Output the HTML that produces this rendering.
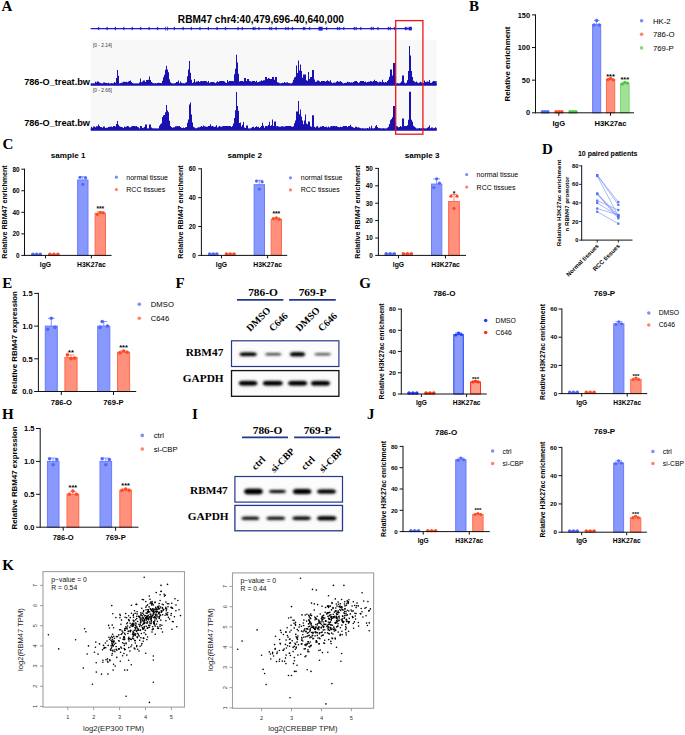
<!DOCTYPE html>
<html><head><meta charset="utf-8"><style>
html,body{margin:0;padding:0;background:#fff;}
svg{display:block;}
</style></head><body>
<svg width="685" height="735" viewBox="0 0 685 735">
<defs><filter id="bl" x="-30%" y="-150%" width="160%" height="400%"><feGaussianBlur stdDeviation="0.95"/></filter><filter id="bl2" x="-30%" y="-150%" width="160%" height="400%"><feGaussianBlur stdDeviation="1.8"/></filter></defs>
<rect width="685" height="735" fill="#fff"/>
<text x="1.50" y="11.03" font-family="Liberation Serif" font-size="15" font-weight="bold" text-anchor="start" fill="#000">A</text>
<text x="260.90" y="22.64" font-family="Liberation Sans" font-size="10.1" font-weight="bold" text-anchor="middle" fill="#000">RBM47 chr4:40,479,696-40,640,000</text>
<line x1="90.60" y1="28.60" x2="411.80" y2="28.60" stroke="#1c1cd0" stroke-width="1.25"/>
<path d="M99.20 26.6 L96.90 28.6 L99.20 30.6 Z" fill="#1c1cd0"/>
<path d="M107.60 26.6 L105.30 28.6 L107.60 30.6 Z" fill="#1c1cd0"/>
<path d="M116.00 26.6 L113.70 28.6 L116.00 30.6 Z" fill="#1c1cd0"/>
<path d="M124.40 26.6 L122.10 28.6 L124.40 30.6 Z" fill="#1c1cd0"/>
<path d="M132.80 26.6 L130.50 28.6 L132.80 30.6 Z" fill="#1c1cd0"/>
<path d="M141.20 26.6 L138.90 28.6 L141.20 30.6 Z" fill="#1c1cd0"/>
<path d="M149.70 26.6 L147.40 28.6 L149.70 30.6 Z" fill="#1c1cd0"/>
<path d="M158.10 26.6 L155.80 28.6 L158.10 30.6 Z" fill="#1c1cd0"/>
<path d="M174.90 26.6 L172.60 28.6 L174.90 30.6 Z" fill="#1c1cd0"/>
<path d="M183.60 26.6 L181.30 28.6 L183.60 30.6 Z" fill="#1c1cd0"/>
<path d="M191.90 26.6 L189.60 28.6 L191.90 30.6 Z" fill="#1c1cd0"/>
<path d="M200.50 26.6 L198.20 28.6 L200.50 30.6 Z" fill="#1c1cd0"/>
<path d="M209.00 26.6 L206.70 28.6 L209.00 30.6 Z" fill="#1c1cd0"/>
<path d="M217.60 26.6 L215.30 28.6 L217.60 30.6 Z" fill="#1c1cd0"/>
<path d="M226.10 26.6 L223.80 28.6 L226.10 30.6 Z" fill="#1c1cd0"/>
<path d="M238.60 26.6 L236.30 28.6 L238.60 30.6 Z" fill="#1c1cd0"/>
<path d="M242.80 26.6 L240.50 28.6 L242.80 30.6 Z" fill="#1c1cd0"/>
<path d="M253.80 26.6 L251.50 28.6 L253.80 30.6 Z" fill="#1c1cd0"/>
<path d="M255.50 26.6 L253.20 28.6 L255.50 30.6 Z" fill="#1c1cd0"/>
<path d="M259.50 26.6 L257.20 28.6 L259.50 30.6 Z" fill="#1c1cd0"/>
<path d="M270.30 26.6 L268.00 28.6 L270.30 30.6 Z" fill="#1c1cd0"/>
<path d="M272.20 26.6 L269.90 28.6 L272.20 30.6 Z" fill="#1c1cd0"/>
<path d="M276.60 26.6 L274.30 28.6 L276.60 30.6 Z" fill="#1c1cd0"/>
<path d="M286.40 26.6 L284.10 28.6 L286.40 30.6 Z" fill="#1c1cd0"/>
<path d="M288.70 26.6 L286.40 28.6 L288.70 30.6 Z" fill="#1c1cd0"/>
<path d="M293.10 26.6 L290.80 28.6 L293.10 30.6 Z" fill="#1c1cd0"/>
<path d="M304.10 26.6 L301.80 28.6 L304.10 30.6 Z" fill="#1c1cd0"/>
<path d="M305.40 26.6 L303.10 28.6 L305.40 30.6 Z" fill="#1c1cd0"/>
<path d="M310.20 26.6 L307.90 28.6 L310.20 30.6 Z" fill="#1c1cd0"/>
<path d="M327.20 26.6 L324.90 28.6 L327.20 30.6 Z" fill="#1c1cd0"/>
<path d="M338.20 26.6 L335.90 28.6 L338.20 30.6 Z" fill="#1c1cd0"/>
<path d="M340.20 26.6 L337.90 28.6 L340.20 30.6 Z" fill="#1c1cd0"/>
<path d="M344.30 26.6 L342.00 28.6 L344.30 30.6 Z" fill="#1c1cd0"/>
<path d="M354.80 26.6 L352.50 28.6 L354.80 30.6 Z" fill="#1c1cd0"/>
<path d="M356.70 26.6 L354.40 28.6 L356.70 30.6 Z" fill="#1c1cd0"/>
<path d="M361.40 26.6 L359.10 28.6 L361.40 30.6 Z" fill="#1c1cd0"/>
<path d="M371.80 26.6 L369.50 28.6 L371.80 30.6 Z" fill="#1c1cd0"/>
<path d="M373.70 26.6 L371.40 28.6 L373.70 30.6 Z" fill="#1c1cd0"/>
<path d="M378.50 26.6 L376.20 28.6 L378.50 30.6 Z" fill="#1c1cd0"/>
<path d="M388.90 26.6 L386.60 28.6 L388.90 30.6 Z" fill="#1c1cd0"/>
<path d="M390.80 26.6 L388.50 28.6 L390.80 30.6 Z" fill="#1c1cd0"/>
<path d="M395.20 26.6 L392.90 28.6 L395.20 30.6 Z" fill="#1c1cd0"/>
<path d="M406.00 26.6 L403.70 28.6 L406.00 30.6 Z" fill="#1c1cd0"/>
<path d="M407.30 26.6 L405.00 28.6 L407.30 30.6 Z" fill="#1c1cd0"/>
<rect x="318.50" y="26.80" width="4.10" height="3.80" fill="#1c1cd0" stroke="none" stroke-width="1"/>
<rect x="408.60" y="26.80" width="3.20" height="3.60" fill="#1c1cd0" stroke="none" stroke-width="1"/>
<line x1="165.70" y1="26.60" x2="165.70" y2="30.60" stroke="#1c1cd0" stroke-width="0.8"/>
<line x1="167.60" y1="26.60" x2="167.60" y2="30.60" stroke="#1c1cd0" stroke-width="0.8"/>
<rect x="90.60" y="39.60" width="346.00" height="46.00" fill="#f8f8f8" stroke="none" stroke-width="1"/>
<rect x="90.60" y="86.60" width="346.00" height="44.00" fill="#f8f8f8" stroke="none" stroke-width="1"/>
<text x="93.00" y="46.60" font-family="Liberation Sans" font-size="4.8" font-weight="normal" text-anchor="start" fill="#333">[0 - 2.14]</text>
<text x="93.00" y="92.10" font-family="Liberation Sans" font-size="4.8" font-weight="normal" text-anchor="start" fill="#333">[0 - 2.66]</text>
<text x="90.00" y="85.21" font-family="Liberation Sans" font-size="9.2" font-weight="bold" text-anchor="end" fill="#000">786-O_treat.bw</text>
<text x="90.00" y="126.11" font-family="Liberation Sans" font-size="9.2" font-weight="bold" text-anchor="end" fill="#000">786-O_treat.bw</text>
<path d="M91 85.50 V83.60H92.00V83.80H93.00V83.47H94.00V83.80H95.00V81.83H96.00V82.50H97.00V81.30H98.00V81.76H99.00V82.38H100.00V83.00H101.00V83.58H102.00V83.67H103.00V82.50H104.00V82.47H105.00V82.83H106.00V83.00H107.00V83.44H108.00V82.68H109.00V83.70H110.00V83.80H111.00V83.35H112.00V83.49H113.00V83.44H114.00V81.89H115.00V82.74H116.00V77.99H117.00V70.00H118.00V75.70H119.00V83.80H120.00V83.18H121.00V82.65H122.00V82.51H123.00V81.70H124.00V81.69H125.00V82.03H126.00V81.78H127.00V82.37H128.00V81.58H129.00V81.00H130.00V80.47H131.00V82.07H132.00V82.93H133.00V83.80H134.00V83.80H135.00V83.80H136.00V83.80H137.00V83.80H138.00V83.78H139.00V82.54H140.00V78.50H141.00V82.21H142.00V81.55H143.00V80.50H144.00V80.50H145.00V82.06H146.00V80.00H147.00V80.00H148.00V79.81H149.00V76.50H150.00V80.10H151.00V82.07H152.00V82.71H153.00V83.39H154.00V83.80H155.00V82.98H156.00V83.64H157.00V83.02H158.00V82.63H159.00V82.98H160.00V83.01H161.00V83.35H162.00V80.76H163.00V77.36H164.00V74.70H165.00V69.78H166.00V65.70H167.00V69.38H168.00V72.18H169.00V79.17H170.00V82.14H171.00V83.30H172.00V83.80H173.00V83.80H174.00V83.80H175.00V82.90H176.00V82.00H177.00V82.05H178.00V80.59H179.00V83.51H180.00V81.47H181.00V82.77H182.00V83.39H183.00V83.30H184.00V83.80H185.00V82.74H186.00V82.32H187.00V76.32H188.00V69.60H189.00V61.00H190.00V72.78H191.00V79.81H192.00V82.97H193.00V82.17H194.00V79.12H195.00V82.24H196.00V81.53H197.00V81.50H198.00V81.00H199.00V82.03H200.00V81.36H201.00V81.00H202.00V81.15H203.00V81.00H204.00V81.00H205.00V81.00H206.00V81.23H207.00V82.28H208.00V80.91H209.00V82.92H210.00V82.19H211.00V81.95H212.00V81.88H213.00V82.02H214.00V82.59H215.00V83.20H216.00V82.30H217.00V81.34H218.00V81.96H219.00V81.37H220.00V81.00H221.00V81.00H222.00V81.00H223.00V81.00H224.00V81.62H225.00V82.61H226.00V82.94H227.00V79.97H228.00V81.76H229.00V81.00H230.00V81.00H231.00V81.00H232.00V81.00H233.00V81.15H234.00V74.15H235.00V68.73H236.00V54.70H237.00V62.62H238.00V73.63H239.00V81.50H240.00V81.00H241.00V81.00H242.00V81.00H243.00V81.48H244.00V78.00H245.00V78.00H246.00V81.00H247.00V79.00H248.00V79.00H249.00V81.00H250.00V81.27H251.00V81.76H252.00V81.03H253.00V81.12H254.00V81.00H255.00V81.73H256.00V80.76H257.00V82.20H258.00V82.01H259.00V81.46H260.00V81.14H261.00V80.21H262.00V80.95H263.00V80.22H264.00V80.17H265.00V77.00H266.00V77.00H267.00V78.98H268.00V78.00H269.00V78.58H270.00V79.03H271.00V79.04H272.00V77.00H273.00V77.00H274.00V79.82H275.00V77.00H276.00V77.00H277.00V82.13H278.00V82.61H279.00V83.14H280.00V83.80H281.00V83.25H282.00V82.77H283.00V82.99H284.00V81.99H285.00V82.83H286.00V82.38H287.00V82.13H288.00V82.97H289.00V83.19H290.00V83.80H291.00V83.80H292.00V82.46H293.00V79.74H294.00V77.60H295.00V76.66H296.00V65.50H297.00V72.89H298.00V60.50H299.00V70.61H300.00V64.50H301.00V70.89H302.00V77.85H303.00V74.50H304.00V74.50H305.00V74.50H306.00V80.33H307.00V80.80H308.00V72.00H309.00V79.02H310.00V77.00H311.00V77.00H312.00V70.00H313.00V70.00H314.00V79.44H315.00V81.98H316.00V81.43H317.00V80.50H318.00V80.50H319.00V81.16H320.00V81.97H321.00V81.00H322.00V81.00H323.00V81.00H324.00V81.00H325.00V81.77H326.00V81.00H327.00V80.30H328.00V81.00H329.00V81.52H330.00V80.25H331.00V82.14H332.00V83.19H333.00V82.73H334.00V82.51H335.00V82.67H336.00V81.70H337.00V81.00H338.00V81.66H339.00V81.63H340.00V81.00H341.00V82.01H342.00V82.69H343.00V83.78H344.00V82.93H345.00V82.84H346.00V82.78H347.00V81.78H348.00V82.20H349.00V82.02H350.00V82.70H351.00V82.24H352.00V82.45H353.00V82.08H354.00V81.32H355.00V81.00H356.00V81.04H357.00V81.88H358.00V82.94H359.00V82.16H360.00V81.06H361.00V81.00H362.00V81.00H363.00V81.02H364.00V81.92H365.00V81.51H366.00V82.56H367.00V82.07H368.00V81.82H369.00V81.74H370.00V81.00H371.00V81.18H372.00V81.69H373.00V81.05H374.00V79.72H375.00V81.00H376.00V81.00H377.00V81.87H378.00V82.52H379.00V81.67H380.00V81.69H381.00V82.32H382.00V79.87H383.00V82.00H384.00V82.51H385.00V81.94H386.00V82.44H387.00V81.10H388.00V79.70H389.00V76.64H390.00V69.50H391.00V69.50H392.00V75.50H393.00V63.00H394.00V63.00H395.00V76.26H396.00V83.80H397.00V82.95H398.00V83.80H399.00V83.80H400.00V82.73H401.00V81.53H402.00V75.50H403.00V75.50H404.00V82.52H405.00V83.80H406.00V82.85H407.00V80.21H408.00V71.03H409.00V46.00H410.00V55.55H411.00V71.10H412.00V76.97H413.00V80.87H414.00V81.50H415.00V82.22H416.00V81.46H417.00V82.49H418.00V83.25H419.00V82.42H420.00V81.65H421.00V82.40H422.00V82.53H423.00V83.04H424.00V80.41H425.00V81.89H426.00V81.75H427.00V81.53H428.00V81.74H429.00V79.89H430.00V82.81H431.00V82.79H432.00V81.73H433.00V81.06H434.00V81.00H435.00V81.31H436.00V81.00H436.60V85.50Z" fill="#1a12b0"/>
<rect x="90.60" y="83.50" width="346.00" height="2.00" fill="#1a12b0" stroke="none" stroke-width="1"/>
<path d="M91 130.50 V126.80H92.00V127.71H93.00V126.50H94.00V126.50H95.00V127.25H96.00V126.17H97.00V126.29H98.00V124.50H99.00V126.00H100.00V127.05H101.00V127.03H102.00V127.72H103.00V126.50H104.00V126.50H105.00V127.90H106.00V127.83H107.00V127.83H108.00V126.99H109.00V126.84H110.00V126.87H111.00V126.43H112.00V126.94H113.00V126.00H114.00V126.00H115.00V126.41H116.00V124.00H117.00V121.00H118.00V124.79H119.00V126.14H120.00V126.71H121.00V126.88H122.00V127.18H123.00V128.10H124.00V126.58H125.00V126.90H126.00V126.48H127.00V126.00H128.00V126.34H129.00V127.19H130.00V127.31H131.00V126.42H132.00V126.00H133.00V126.00H134.00V126.00H135.00V126.24H136.00V126.00H137.00V127.06H138.00V127.21H139.00V128.80H140.00V126.00H141.00V126.00H142.00V128.12H143.00V127.66H144.00V127.03H145.00V124.50H146.00V124.50H147.00V128.80H148.00V128.49H149.00V124.50H150.00V124.50H151.00V127.62H152.00V128.52H153.00V128.48H154.00V128.80H155.00V128.80H156.00V128.80H157.00V128.80H158.00V128.66H159.00V125.83H160.00V124.22H161.00V123.35H162.00V117.06H163.00V115.28H164.00V114.91H165.00V112.30H166.00V105.00H167.00V110.46H168.00V112.35H169.00V120.85H170.00V125.94H171.00V126.91H172.00V127.73H173.00V127.35H174.00V127.30H175.00V126.31H176.00V126.27H177.00V126.00H178.00V126.21H179.00V126.05H180.00V127.08H181.00V127.79H182.00V128.00H183.00V127.55H184.00V127.92H185.00V127.34H186.00V127.08H187.00V122.80H188.00V119.46H189.00V104.43H190.00V102.50H191.00V114.56H192.00V122.58H193.00V126.82H194.00V127.47H195.00V128.57H196.00V128.22H197.00V127.83H198.00V127.17H199.00V127.27H200.00V126.64H201.00V126.01H202.00V126.75H203.00V125.59H204.00V126.18H205.00V126.43H206.00V126.86H207.00V126.77H208.00V126.06H209.00V126.00H210.00V124.23H211.00V126.24H212.00V126.00H213.00V126.59H214.00V127.08H215.00V126.38H216.00V125.36H217.00V127.51H218.00V126.64H219.00V126.00H220.00V126.58H221.00V126.85H222.00V126.18H223.00V126.00H224.00V126.00H225.00V126.00H226.00V126.00H227.00V126.00H228.00V126.00H229.00V126.00H230.00V126.00H231.00V127.04H232.00V126.12H233.00V123.39H234.00V117.95H235.00V110.20H236.00V92.00H237.00V105.93H238.00V110.72H239.00V123.03H240.00V122.50H241.00V126.56H242.00V124.67H243.00V122.00H244.00V127.59H245.00V128.07H246.00V125.50H247.00V125.50H248.00V128.77H249.00V128.80H250.00V128.80H251.00V127.76H252.00V126.89H253.00V126.76H254.00V127.72H255.00V127.02H256.00V126.19H257.00V127.00H258.00V126.70H259.00V127.90H260.00V127.01H261.00V126.07H262.00V122.70H263.00V125.73H264.00V127.86H265.00V126.00H266.00V126.00H267.00V126.23H268.00V124.88H269.00V121.80H270.00V126.00H271.00V125.17H272.00V119.50H273.00V125.99H274.00V121.50H275.00V121.50H276.00V126.19H277.00V126.00H278.00V126.50H279.00V126.87H280.00V126.81H281.00V126.21H282.00V126.33H283.00V126.39H284.00V126.44H285.00V126.28H286.00V126.05H287.00V126.00H288.00V126.00H289.00V126.00H290.00V126.00H291.00V126.40H292.00V126.74H293.00V126.37H294.00V123.34H295.00V120.50H296.00V111.50H297.00V111.50H298.00V101.00H299.00V114.36H300.00V109.50H301.00V116.50H302.00V120.58H303.00V124.37H304.00V120.47H305.00V114.50H306.00V123.59H307.00V124.35H308.00V121.50H309.00V121.50H310.00V126.32H311.00V126.82H312.00V115.30H313.00V115.30H314.00V126.65H315.00V127.60H316.00V126.50H317.00V125.94H318.00V127.41H319.00V127.57H320.00V126.53H321.00V126.66H322.00V126.00H323.00V126.00H324.00V127.05H325.00V126.75H326.00V126.87H327.00V127.38H328.00V126.38H329.00V127.42H330.00V126.38H331.00V126.00H332.00V126.30H333.00V126.00H334.00V126.09H335.00V126.26H336.00V126.00H337.00V126.84H338.00V126.94H339.00V127.18H340.00V126.75H341.00V127.08H342.00V126.76H343.00V126.00H344.00V126.00H345.00V126.00H346.00V126.00H347.00V127.01H348.00V126.04H349.00V126.00H350.00V124.68H351.00V126.60H352.00V126.93H353.00V127.51H354.00V127.88H355.00V126.84H356.00V126.68H357.00V127.41H358.00V127.26H359.00V127.75H360.00V128.32H361.00V128.80H362.00V128.31H363.00V128.80H364.00V128.78H365.00V128.80H366.00V128.80H367.00V128.04H368.00V128.80H369.00V126.74H370.00V128.80H371.00V125.80H372.00V128.49H373.00V128.80H374.00V128.13H375.00V126.32H376.00V125.04H377.00V127.09H378.00V128.13H379.00V128.32H380.00V128.40H381.00V128.75H382.00V128.80H383.00V128.13H384.00V128.80H385.00V128.80H386.00V128.79H387.00V127.79H388.00V126.79H389.00V123.96H390.00V120.21H391.00V119.02H392.00V117.20H393.00V106.00H394.00V106.00H395.00V123.03H396.00V126.00H397.00V126.59H398.00V127.28H399.00V126.94H400.00V126.00H401.00V126.70H402.00V118.50H403.00V118.50H404.00V125.89H405.00V126.00H406.00V126.00H407.00V125.36H408.00V119.74H409.00V91.70H410.00V91.70H411.00V119.67H412.00V121.86H413.00V125.70H414.00V126.71H415.00V127.50H416.00V128.80H417.00V128.80H418.00V128.80H419.00V128.05H420.00V128.77H421.00V128.60H422.00V128.28H423.00V127.86H424.00V128.76H425.00V128.80H426.00V128.80H427.00V127.74H428.00V126.88H429.00V125.49H430.00V128.41H431.00V127.50H432.00V127.50H433.00V128.80H434.00V127.93H435.00V127.21H436.00V127.70H436.60V130.50Z" fill="#1a12b0"/>
<rect x="90.60" y="128.50" width="346.00" height="2.00" fill="#1a12b0" stroke="none" stroke-width="1"/>
<rect x="395.70" y="20.60" width="27.20" height="113.60" fill="none" stroke="#f01414" stroke-width="1.3"/>
<text x="469.00" y="10.73" font-family="Liberation Serif" font-size="15" font-weight="bold" text-anchor="start" fill="#000">B</text>
<rect x="541.60" y="111.82" width="7.10" height="0.98" fill="#8898fd" stroke="#6b7cfb" stroke-width="1.0"/>
<circle cx="542.60" cy="111.82" r="1.8" fill="#5068fb"/>
<circle cx="545.15" cy="111.82" r="1.8" fill="#5068fb"/>
<circle cx="547.70" cy="111.82" r="1.8" fill="#5068fb"/>
<rect x="555.20" y="111.82" width="7.50" height="0.98" fill="#ff907b" stroke="#ff6a4e" stroke-width="1.0"/>
<circle cx="556.20" cy="111.82" r="1.8" fill="#ff4a28"/>
<circle cx="558.95" cy="111.82" r="1.8" fill="#ff4a28"/>
<circle cx="561.70" cy="111.82" r="1.8" fill="#ff4a28"/>
<rect x="569.20" y="111.82" width="7.60" height="0.98" fill="#a2e298" stroke="#7ad866" stroke-width="1.0"/>
<circle cx="570.20" cy="111.82" r="1.8" fill="#48c844"/>
<circle cx="573.00" cy="111.82" r="1.8" fill="#48c844"/>
<circle cx="575.80" cy="111.82" r="1.8" fill="#48c844"/>
<line x1="596.65" y1="24.69" x2="596.65" y2="20.45" stroke="#6b7cfb" stroke-width="0.8"/>
<line x1="593.92" y1="20.45" x2="599.38" y2="20.45" stroke="#6b7cfb" stroke-width="0.8"/>
<rect x="592.60" y="24.69" width="8.10" height="88.11" fill="#8898fd" stroke="#6b7cfb" stroke-width="1.0"/>
<circle cx="596.65" cy="20.45" r="1.7" fill="#5068fb"/>
<circle cx="594.05" cy="25.02" r="1.7" fill="#5068fb"/>
<circle cx="599.25" cy="25.02" r="1.7" fill="#5068fb"/>
<line x1="610.55" y1="79.51" x2="610.55" y2="78.53" stroke="#ff6a4e" stroke-width="0.8"/>
<line x1="607.76" y1="78.53" x2="613.34" y2="78.53" stroke="#ff6a4e" stroke-width="0.8"/>
<rect x="606.40" y="79.51" width="8.30" height="33.29" fill="#ff907b" stroke="#ff6a4e" stroke-width="1.0"/>
<circle cx="607.95" cy="79.51" r="1.7" fill="#ff4a28"/>
<circle cx="610.55" cy="78.53" r="1.7" fill="#ff4a28"/>
<circle cx="613.15" cy="79.84" r="1.7" fill="#ff4a28"/>
<text x="610.55" y="79.35" font-family="Liberation Sans" font-size="7.5" font-weight="bold" text-anchor="middle" fill="#000">***</text>
<line x1="624.80" y1="83.43" x2="624.80" y2="82.45" stroke="#7ad866" stroke-width="0.8"/>
<line x1="621.92" y1="82.45" x2="627.68" y2="82.45" stroke="#7ad866" stroke-width="0.8"/>
<rect x="620.50" y="83.43" width="8.60" height="29.37" fill="#a2e298" stroke="#7ad866" stroke-width="1.0"/>
<circle cx="622.20" cy="84.08" r="1.7" fill="#48c844"/>
<circle cx="624.80" cy="82.45" r="1.7" fill="#48c844"/>
<circle cx="627.40" cy="83.10" r="1.7" fill="#48c844"/>
<text x="624.80" y="82.35" font-family="Liberation Sans" font-size="7.5" font-weight="bold" text-anchor="middle" fill="#000">***</text>
<line x1="535.50" y1="112.80" x2="634.00" y2="112.80" stroke="#111" stroke-width="1"/>
<line x1="535.50" y1="14.40" x2="535.50" y2="113.30" stroke="#111" stroke-width="1"/>
<line x1="532.00" y1="112.80" x2="535.50" y2="112.80" stroke="#111" stroke-width="1"/>
<text x="530.10" y="115.46" font-family="Liberation Sans" font-size="7.4" font-weight="bold" text-anchor="end" fill="#000">0</text>
<line x1="532.00" y1="80.17" x2="535.50" y2="80.17" stroke="#111" stroke-width="1"/>
<text x="530.10" y="82.83" font-family="Liberation Sans" font-size="7.4" font-weight="bold" text-anchor="end" fill="#000">50</text>
<line x1="532.00" y1="47.53" x2="535.50" y2="47.53" stroke="#111" stroke-width="1"/>
<text x="530.10" y="50.20" font-family="Liberation Sans" font-size="7.4" font-weight="bold" text-anchor="end" fill="#000">100</text>
<line x1="532.00" y1="14.90" x2="535.50" y2="14.90" stroke="#111" stroke-width="1"/>
<text x="530.10" y="17.56" font-family="Liberation Sans" font-size="7.4" font-weight="bold" text-anchor="end" fill="#000">150</text>
<line x1="558.80" y1="112.80" x2="558.80" y2="115.80" stroke="#111" stroke-width="1"/>
<text x="558.80" y="126.04" font-family="Liberation Sans" font-size="7.6" font-weight="bold" text-anchor="middle" fill="#000">IgG</text>
<line x1="610.50" y1="112.80" x2="610.50" y2="115.80" stroke="#111" stroke-width="1"/>
<text x="610.50" y="126.04" font-family="Liberation Sans" font-size="7.6" font-weight="bold" text-anchor="middle" fill="#000">H3K27ac</text>
<text x="0" y="0" font-family="Liberation Sans" font-size="7.9" font-weight="bold" text-anchor="middle" fill="#000" transform="translate(510.14 64.00) rotate(-90)">Relative enrichment</text>
<circle cx="641.60" cy="20.70" r="1.8" fill="#7b8ef9"/>
<text x="652.90" y="23.51" font-family="Liberation Sans" font-size="7.8" font-weight="normal" text-anchor="start" fill="#000">HK-2</text>
<circle cx="641.60" cy="34.30" r="1.8" fill="#ff826a"/>
<text x="652.90" y="37.11" font-family="Liberation Sans" font-size="7.8" font-weight="normal" text-anchor="start" fill="#000">786-O</text>
<circle cx="641.60" cy="47.90" r="1.8" fill="#8ad87e"/>
<text x="652.90" y="50.71" font-family="Liberation Sans" font-size="7.8" font-weight="normal" text-anchor="start" fill="#000">769-P</text>
<text x="2.60" y="148.92" font-family="Liberation Serif" font-size="15" font-weight="bold" text-anchor="start" fill="#000">C</text>
<rect x="31.90" y="254.32" width="9.40" height="1.08" fill="#8898fd" stroke="#6b7cfb" stroke-width="1.0"/>
<circle cx="32.90" cy="254.32" r="1.7" fill="#5068fb"/>
<circle cx="36.60" cy="254.32" r="1.7" fill="#5068fb"/>
<circle cx="40.30" cy="254.32" r="1.7" fill="#5068fb"/>
<rect x="48.90" y="254.32" width="10.00" height="1.08" fill="#ff907b" stroke="#ff6a4e" stroke-width="1.0"/>
<circle cx="49.90" cy="254.32" r="1.7" fill="#ff4a28"/>
<circle cx="53.90" cy="254.32" r="1.7" fill="#ff4a28"/>
<circle cx="57.90" cy="254.32" r="1.7" fill="#ff4a28"/>
<line x1="82.80" y1="179.97" x2="82.80" y2="176.74" stroke="#6b7cfb" stroke-width="0.8"/>
<line x1="79.38" y1="176.74" x2="86.22" y2="176.74" stroke="#6b7cfb" stroke-width="0.8"/>
<rect x="77.60" y="179.97" width="10.40" height="75.43" fill="#8898fd" stroke="#6b7cfb" stroke-width="1.0"/>
<circle cx="80.00" cy="177.28" r="1.6" fill="#5068fb"/>
<circle cx="82.80" cy="184.28" r="1.6" fill="#5068fb"/>
<circle cx="85.60" cy="177.82" r="1.6" fill="#5068fb"/>
<line x1="100.30" y1="213.38" x2="100.30" y2="211.76" stroke="#ff6a4e" stroke-width="0.8"/>
<line x1="96.88" y1="211.76" x2="103.72" y2="211.76" stroke="#ff6a4e" stroke-width="0.8"/>
<rect x="95.10" y="213.38" width="10.40" height="42.02" fill="#ff907b" stroke="#ff6a4e" stroke-width="1.0"/>
<circle cx="97.30" cy="214.45" r="1.6" fill="#ff4a28"/>
<circle cx="100.30" cy="212.30" r="1.6" fill="#ff4a28"/>
<circle cx="103.30" cy="212.84" r="1.6" fill="#ff4a28"/>
<text x="100.30" y="211.00" font-family="Liberation Sans" font-size="6.6" font-weight="bold" text-anchor="middle" fill="#000">***</text>
<line x1="24.50" y1="255.40" x2="111.60" y2="255.40" stroke="#111" stroke-width="1"/>
<line x1="24.50" y1="168.70" x2="24.50" y2="255.90" stroke="#111" stroke-width="1"/>
<line x1="21.30" y1="255.40" x2="24.50" y2="255.40" stroke="#111" stroke-width="1"/>
<text x="19.50" y="257.70" font-family="Liberation Sans" font-size="6.4" font-weight="bold" text-anchor="end" fill="#000">0</text>
<line x1="21.30" y1="233.85" x2="24.50" y2="233.85" stroke="#111" stroke-width="1"/>
<text x="19.50" y="236.15" font-family="Liberation Sans" font-size="6.4" font-weight="bold" text-anchor="end" fill="#000">20</text>
<line x1="21.30" y1="212.30" x2="24.50" y2="212.30" stroke="#111" stroke-width="1"/>
<text x="19.50" y="214.60" font-family="Liberation Sans" font-size="6.4" font-weight="bold" text-anchor="end" fill="#000">40</text>
<line x1="21.30" y1="190.75" x2="24.50" y2="190.75" stroke="#111" stroke-width="1"/>
<text x="19.50" y="193.05" font-family="Liberation Sans" font-size="6.4" font-weight="bold" text-anchor="end" fill="#000">60</text>
<line x1="21.30" y1="169.20" x2="24.50" y2="169.20" stroke="#111" stroke-width="1"/>
<text x="19.50" y="171.50" font-family="Liberation Sans" font-size="6.4" font-weight="bold" text-anchor="end" fill="#000">80</text>
<line x1="45.50" y1="255.40" x2="45.50" y2="258.40" stroke="#111" stroke-width="1"/>
<text x="45.50" y="266.65" font-family="Liberation Sans" font-size="6.8" font-weight="bold" text-anchor="middle" fill="#000">IgG</text>
<line x1="91.40" y1="255.40" x2="91.40" y2="258.40" stroke="#111" stroke-width="1"/>
<text x="91.40" y="266.65" font-family="Liberation Sans" font-size="6.8" font-weight="bold" text-anchor="middle" fill="#000">H3K27ac</text>
<text x="0" y="0" font-family="Liberation Sans" font-size="7.1" font-weight="bold" text-anchor="middle" fill="#000" transform="translate(7.06 212.00) rotate(-90)">Relative RBM47 enrichment</text>
<text x="68.20" y="158.22" font-family="Liberation Sans" font-size="8.1" font-weight="bold" text-anchor="middle" fill="#000">sample 1</text>
<circle cx="116.40" cy="177.20" r="1.6" fill="#7b8ef9"/>
<text x="126.30" y="179.72" font-family="Liberation Sans" font-size="7.0" font-weight="normal" text-anchor="start" fill="#000">normal tissue</text>
<circle cx="116.40" cy="189.60" r="1.6" fill="#ff826a"/>
<text x="126.30" y="192.12" font-family="Liberation Sans" font-size="7.0" font-weight="normal" text-anchor="start" fill="#000">RCC tissues</text>
<rect x="208.70" y="253.96" width="9.10" height="1.44" fill="#8898fd" stroke="#6b7cfb" stroke-width="1.0"/>
<circle cx="209.70" cy="253.96" r="1.7" fill="#5068fb"/>
<circle cx="213.25" cy="253.96" r="1.7" fill="#5068fb"/>
<circle cx="216.80" cy="253.96" r="1.7" fill="#5068fb"/>
<rect x="225.40" y="253.96" width="9.60" height="1.44" fill="#ff907b" stroke="#ff6a4e" stroke-width="1.0"/>
<circle cx="226.40" cy="253.96" r="1.7" fill="#ff4a28"/>
<circle cx="230.20" cy="253.96" r="1.7" fill="#ff4a28"/>
<circle cx="234.00" cy="253.96" r="1.7" fill="#ff4a28"/>
<line x1="259.30" y1="184.68" x2="259.30" y2="180.35" stroke="#6b7cfb" stroke-width="0.8"/>
<line x1="255.88" y1="180.35" x2="262.72" y2="180.35" stroke="#6b7cfb" stroke-width="0.8"/>
<rect x="254.10" y="184.68" width="10.40" height="70.72" fill="#8898fd" stroke="#6b7cfb" stroke-width="1.0"/>
<circle cx="256.50" cy="181.07" r="1.6" fill="#5068fb"/>
<circle cx="259.30" cy="189.01" r="1.6" fill="#5068fb"/>
<circle cx="262.10" cy="181.79" r="1.6" fill="#5068fb"/>
<line x1="276.35" y1="219.32" x2="276.35" y2="217.87" stroke="#ff6a4e" stroke-width="0.8"/>
<line x1="272.96" y1="217.87" x2="279.74" y2="217.87" stroke="#ff6a4e" stroke-width="0.8"/>
<rect x="271.20" y="219.32" width="10.30" height="36.08" fill="#ff907b" stroke="#ff6a4e" stroke-width="1.0"/>
<circle cx="273.35" cy="218.60" r="1.6" fill="#ff4a28"/>
<circle cx="276.35" cy="217.87" r="1.6" fill="#ff4a28"/>
<circle cx="279.35" cy="219.32" r="1.6" fill="#ff4a28"/>
<text x="276.35" y="215.60" font-family="Liberation Sans" font-size="6.6" font-weight="bold" text-anchor="middle" fill="#000">***</text>
<line x1="201.40" y1="255.40" x2="287.20" y2="255.40" stroke="#111" stroke-width="1"/>
<line x1="201.40" y1="168.30" x2="201.40" y2="255.90" stroke="#111" stroke-width="1"/>
<line x1="198.20" y1="255.40" x2="201.40" y2="255.40" stroke="#111" stroke-width="1"/>
<text x="195.90" y="257.70" font-family="Liberation Sans" font-size="6.4" font-weight="bold" text-anchor="end" fill="#000">0</text>
<line x1="198.20" y1="226.53" x2="201.40" y2="226.53" stroke="#111" stroke-width="1"/>
<text x="195.90" y="228.84" font-family="Liberation Sans" font-size="6.4" font-weight="bold" text-anchor="end" fill="#000">20</text>
<line x1="198.20" y1="197.67" x2="201.40" y2="197.67" stroke="#111" stroke-width="1"/>
<text x="195.90" y="199.97" font-family="Liberation Sans" font-size="6.4" font-weight="bold" text-anchor="end" fill="#000">40</text>
<line x1="198.20" y1="168.80" x2="201.40" y2="168.80" stroke="#111" stroke-width="1"/>
<text x="195.90" y="171.10" font-family="Liberation Sans" font-size="6.4" font-weight="bold" text-anchor="end" fill="#000">60</text>
<line x1="221.50" y1="255.40" x2="221.50" y2="258.40" stroke="#111" stroke-width="1"/>
<text x="221.50" y="266.65" font-family="Liberation Sans" font-size="6.8" font-weight="bold" text-anchor="middle" fill="#000">IgG</text>
<line x1="267.60" y1="255.40" x2="267.60" y2="258.40" stroke="#111" stroke-width="1"/>
<text x="267.60" y="266.65" font-family="Liberation Sans" font-size="6.8" font-weight="bold" text-anchor="middle" fill="#000">H3K27ac</text>
<text x="0" y="0" font-family="Liberation Sans" font-size="7.1" font-weight="bold" text-anchor="middle" fill="#000" transform="translate(182.86 212.00) rotate(-90)">Relative RBM47 enrichment</text>
<text x="244.80" y="158.22" font-family="Liberation Sans" font-size="8.1" font-weight="bold" text-anchor="middle" fill="#000">sample 2</text>
<circle cx="290.50" cy="177.80" r="1.6" fill="#7b8ef9"/>
<text x="300.80" y="180.32" font-family="Liberation Sans" font-size="7.0" font-weight="normal" text-anchor="start" fill="#000">normal tissue</text>
<circle cx="290.50" cy="189.90" r="1.6" fill="#ff826a"/>
<text x="300.80" y="192.42" font-family="Liberation Sans" font-size="7.0" font-weight="normal" text-anchor="start" fill="#000">RCC tissues</text>
<rect x="385.20" y="253.66" width="10.00" height="1.74" fill="#8898fd" stroke="#6b7cfb" stroke-width="1.0"/>
<circle cx="386.20" cy="253.66" r="1.7" fill="#5068fb"/>
<circle cx="390.20" cy="253.66" r="1.7" fill="#5068fb"/>
<circle cx="394.20" cy="253.66" r="1.7" fill="#5068fb"/>
<rect x="402.40" y="253.66" width="10.00" height="1.74" fill="#ff907b" stroke="#ff6a4e" stroke-width="1.0"/>
<circle cx="403.40" cy="253.66" r="1.7" fill="#ff4a28"/>
<circle cx="407.40" cy="253.66" r="1.7" fill="#ff4a28"/>
<circle cx="411.40" cy="253.66" r="1.7" fill="#ff4a28"/>
<line x1="436.65" y1="184.06" x2="436.65" y2="178.84" stroke="#6b7cfb" stroke-width="0.8"/>
<line x1="433.26" y1="178.84" x2="440.04" y2="178.84" stroke="#6b7cfb" stroke-width="0.8"/>
<rect x="431.50" y="184.06" width="10.30" height="71.34" fill="#8898fd" stroke="#6b7cfb" stroke-width="1.0"/>
<circle cx="433.85" cy="187.54" r="1.6" fill="#5068fb"/>
<circle cx="436.65" cy="178.84" r="1.6" fill="#5068fb"/>
<circle cx="439.45" cy="183.19" r="1.6" fill="#5068fb"/>
<line x1="454.00" y1="201.46" x2="454.00" y2="194.50" stroke="#ff6a4e" stroke-width="0.8"/>
<line x1="450.46" y1="194.50" x2="457.54" y2="194.50" stroke="#ff6a4e" stroke-width="0.8"/>
<rect x="448.60" y="201.46" width="10.80" height="53.94" fill="#ff907b" stroke="#ff6a4e" stroke-width="1.0"/>
<circle cx="451.00" cy="196.24" r="1.6" fill="#ff4a28"/>
<circle cx="454.00" cy="208.42" r="1.6" fill="#ff4a28"/>
<circle cx="457.00" cy="196.24" r="1.6" fill="#ff4a28"/>
<text x="454.00" y="196.30" font-family="Liberation Sans" font-size="6.6" font-weight="bold" text-anchor="middle" fill="#000">*</text>
<line x1="378.40" y1="255.40" x2="466.00" y2="255.40" stroke="#111" stroke-width="1"/>
<line x1="378.40" y1="167.90" x2="378.40" y2="255.90" stroke="#111" stroke-width="1"/>
<line x1="375.20" y1="255.40" x2="378.40" y2="255.40" stroke="#111" stroke-width="1"/>
<text x="372.80" y="257.70" font-family="Liberation Sans" font-size="6.4" font-weight="bold" text-anchor="end" fill="#000">0</text>
<line x1="375.20" y1="238.00" x2="378.40" y2="238.00" stroke="#111" stroke-width="1"/>
<text x="372.80" y="240.30" font-family="Liberation Sans" font-size="6.4" font-weight="bold" text-anchor="end" fill="#000">10</text>
<line x1="375.20" y1="220.60" x2="378.40" y2="220.60" stroke="#111" stroke-width="1"/>
<text x="372.80" y="222.90" font-family="Liberation Sans" font-size="6.4" font-weight="bold" text-anchor="end" fill="#000">20</text>
<line x1="375.20" y1="203.20" x2="378.40" y2="203.20" stroke="#111" stroke-width="1"/>
<text x="372.80" y="205.50" font-family="Liberation Sans" font-size="6.4" font-weight="bold" text-anchor="end" fill="#000">30</text>
<line x1="375.20" y1="185.80" x2="378.40" y2="185.80" stroke="#111" stroke-width="1"/>
<text x="372.80" y="188.10" font-family="Liberation Sans" font-size="6.4" font-weight="bold" text-anchor="end" fill="#000">40</text>
<line x1="375.20" y1="168.40" x2="378.40" y2="168.40" stroke="#111" stroke-width="1"/>
<text x="372.80" y="170.70" font-family="Liberation Sans" font-size="6.4" font-weight="bold" text-anchor="end" fill="#000">50</text>
<line x1="398.50" y1="255.40" x2="398.50" y2="258.40" stroke="#111" stroke-width="1"/>
<text x="398.50" y="266.65" font-family="Liberation Sans" font-size="6.8" font-weight="bold" text-anchor="middle" fill="#000">IgG</text>
<line x1="445.50" y1="255.40" x2="445.50" y2="258.40" stroke="#111" stroke-width="1"/>
<text x="445.50" y="266.65" font-family="Liberation Sans" font-size="6.8" font-weight="bold" text-anchor="middle" fill="#000">H3K27ac</text>
<text x="0" y="0" font-family="Liberation Sans" font-size="7.1" font-weight="bold" text-anchor="middle" fill="#000" transform="translate(359.96 212.00) rotate(-90)">Relative RBM47 enrichment</text>
<text x="422.20" y="158.42" font-family="Liberation Sans" font-size="8.1" font-weight="bold" text-anchor="middle" fill="#000">sample 3</text>
<circle cx="466.70" cy="174.60" r="1.6" fill="#7b8ef9"/>
<text x="476.60" y="177.12" font-family="Liberation Sans" font-size="7.0" font-weight="normal" text-anchor="start" fill="#000">normal tissue</text>
<circle cx="466.70" cy="187.10" r="1.6" fill="#ff826a"/>
<text x="476.60" y="189.62" font-family="Liberation Sans" font-size="7.0" font-weight="normal" text-anchor="start" fill="#000">RCC tissues</text>
<text x="542.00" y="153.82" font-family="Liberation Serif" font-size="15" font-weight="bold" text-anchor="start" fill="#000">D</text>
<text x="607.70" y="156.32" font-family="Liberation Sans" font-size="7.0" font-weight="bold" text-anchor="middle" fill="#000">10 paired patients</text>
<line x1="581.70" y1="240.10" x2="632.50" y2="240.10" stroke="#111" stroke-width="1"/>
<line x1="581.70" y1="165.30" x2="581.70" y2="240.60" stroke="#111" stroke-width="1"/>
<line x1="579.20" y1="240.10" x2="581.70" y2="240.10" stroke="#111" stroke-width="0.9"/>
<text x="578.30" y="242.15" font-family="Liberation Sans" font-size="5.7" font-weight="bold" text-anchor="end" fill="#000">0</text>
<line x1="579.20" y1="221.53" x2="581.70" y2="221.53" stroke="#111" stroke-width="0.9"/>
<text x="578.30" y="223.58" font-family="Liberation Sans" font-size="5.7" font-weight="bold" text-anchor="end" fill="#000">20</text>
<line x1="579.20" y1="202.95" x2="581.70" y2="202.95" stroke="#111" stroke-width="0.9"/>
<text x="578.30" y="205.00" font-family="Liberation Sans" font-size="5.7" font-weight="bold" text-anchor="end" fill="#000">40</text>
<line x1="579.20" y1="184.38" x2="581.70" y2="184.38" stroke="#111" stroke-width="0.9"/>
<text x="578.30" y="186.43" font-family="Liberation Sans" font-size="5.7" font-weight="bold" text-anchor="end" fill="#000">60</text>
<line x1="579.20" y1="165.80" x2="581.70" y2="165.80" stroke="#111" stroke-width="0.9"/>
<text x="578.30" y="167.85" font-family="Liberation Sans" font-size="5.7" font-weight="bold" text-anchor="end" fill="#000">80</text>
<line x1="597.20" y1="240.10" x2="597.20" y2="242.60" stroke="#111" stroke-width="0.9"/>
<line x1="618.30" y1="240.10" x2="618.30" y2="242.60" stroke="#111" stroke-width="0.9"/>
<line x1="597.20" y1="175.09" x2="618.30" y2="202.02" stroke="#7189f4" stroke-width="0.6"/>
<line x1="597.20" y1="175.09" x2="618.30" y2="204.81" stroke="#7189f4" stroke-width="0.6"/>
<line x1="597.20" y1="176.02" x2="618.30" y2="215.95" stroke="#7189f4" stroke-width="0.6"/>
<line x1="597.20" y1="193.66" x2="618.30" y2="215.02" stroke="#7189f4" stroke-width="0.6"/>
<line x1="597.20" y1="193.66" x2="618.30" y2="216.88" stroke="#7189f4" stroke-width="0.6"/>
<line x1="597.20" y1="194.13" x2="618.30" y2="218.27" stroke="#7189f4" stroke-width="0.6"/>
<line x1="597.20" y1="200.63" x2="618.30" y2="210.01" stroke="#7189f4" stroke-width="0.6"/>
<line x1="597.20" y1="202.95" x2="618.30" y2="215.95" stroke="#7189f4" stroke-width="0.6"/>
<line x1="597.20" y1="208.52" x2="618.30" y2="215.02" stroke="#7189f4" stroke-width="0.6"/>
<line x1="597.20" y1="211.77" x2="618.30" y2="223.66" stroke="#7189f4" stroke-width="0.6"/>
<rect x="596.10" y="173.99" width="2.20" height="2.20" fill="#5574f4" stroke="none" stroke-width="1"/>
<rect x="617.20" y="200.92" width="2.20" height="2.20" fill="#5574f4" stroke="none" stroke-width="1"/>
<rect x="596.10" y="173.99" width="2.20" height="2.20" fill="#5574f4" stroke="none" stroke-width="1"/>
<rect x="617.20" y="203.71" width="2.20" height="2.20" fill="#5574f4" stroke="none" stroke-width="1"/>
<rect x="596.10" y="174.92" width="2.20" height="2.20" fill="#5574f4" stroke="none" stroke-width="1"/>
<rect x="617.20" y="214.85" width="2.20" height="2.20" fill="#5574f4" stroke="none" stroke-width="1"/>
<rect x="596.10" y="192.56" width="2.20" height="2.20" fill="#5574f4" stroke="none" stroke-width="1"/>
<rect x="617.20" y="213.92" width="2.20" height="2.20" fill="#5574f4" stroke="none" stroke-width="1"/>
<rect x="596.10" y="192.56" width="2.20" height="2.20" fill="#5574f4" stroke="none" stroke-width="1"/>
<rect x="617.20" y="215.78" width="2.20" height="2.20" fill="#5574f4" stroke="none" stroke-width="1"/>
<rect x="596.10" y="193.03" width="2.20" height="2.20" fill="#5574f4" stroke="none" stroke-width="1"/>
<rect x="617.20" y="217.17" width="2.20" height="2.20" fill="#5574f4" stroke="none" stroke-width="1"/>
<rect x="596.10" y="199.53" width="2.20" height="2.20" fill="#5574f4" stroke="none" stroke-width="1"/>
<rect x="617.20" y="208.91" width="2.20" height="2.20" fill="#5574f4" stroke="none" stroke-width="1"/>
<rect x="596.10" y="201.85" width="2.20" height="2.20" fill="#5574f4" stroke="none" stroke-width="1"/>
<rect x="617.20" y="214.85" width="2.20" height="2.20" fill="#5574f4" stroke="none" stroke-width="1"/>
<rect x="596.10" y="207.42" width="2.20" height="2.20" fill="#5574f4" stroke="none" stroke-width="1"/>
<rect x="617.20" y="213.92" width="2.20" height="2.20" fill="#5574f4" stroke="none" stroke-width="1"/>
<rect x="596.10" y="210.67" width="2.20" height="2.20" fill="#5574f4" stroke="none" stroke-width="1"/>
<rect x="617.20" y="222.56" width="2.20" height="2.20" fill="#5574f4" stroke="none" stroke-width="1"/>
<text x="0" y="0" font-family="Liberation Sans" font-size="6.2" font-weight="bold" text-anchor="middle" fill="#000" transform="translate(561.23 203.00) rotate(-90)">Relative H3K27ac enrichment</text>
<text x="0" y="0" font-family="Liberation Sans" font-size="6.1" font-weight="bold" text-anchor="middle" fill="#000" transform="translate(568.80 204.00) rotate(-90)">n RBM47 promotor</text>
<text x="0" y="0" font-family="Liberation Sans" font-size="6.0" font-weight="bold" text-anchor="end" transform="translate(599.2 246.5) rotate(-45)">Normal tissues</text>
<text x="0" y="0" font-family="Liberation Sans" font-size="6.0" font-weight="bold" text-anchor="end" transform="translate(620.3 246.5) rotate(-45)">RCC tissues</text>
<text x="2.30" y="287.72" font-family="Liberation Serif" font-size="15" font-weight="bold" text-anchor="start" fill="#000">E</text>
<line x1="51.30" y1="326.10" x2="51.30" y2="318.25" stroke="#6b7cfb" stroke-width="0.8"/>
<line x1="47.90" y1="318.25" x2="54.70" y2="318.25" stroke="#6b7cfb" stroke-width="0.8"/>
<rect x="45.30" y="326.10" width="12.00" height="65.40" fill="#8898fd" stroke="#6b7cfb" stroke-width="1.0"/>
<circle cx="51.30" cy="318.25" r="1.8" fill="#5068fb"/>
<circle cx="47.70" cy="329.37" r="1.8" fill="#5068fb"/>
<circle cx="54.90" cy="327.41" r="1.8" fill="#5068fb"/>
<line x1="71.00" y1="357.49" x2="71.00" y2="354.88" stroke="#ff6a4e" stroke-width="0.8"/>
<line x1="67.60" y1="354.88" x2="74.40" y2="354.88" stroke="#ff6a4e" stroke-width="0.8"/>
<rect x="64.90" y="357.49" width="12.20" height="34.01" fill="#ff907b" stroke="#ff6a4e" stroke-width="1.0"/>
<circle cx="67.40" cy="354.88" r="1.8" fill="#ff4a28"/>
<circle cx="71.00" cy="358.80" r="1.8" fill="#ff4a28"/>
<circle cx="74.60" cy="358.15" r="1.8" fill="#ff4a28"/>
<text x="71.00" y="354.60" font-family="Liberation Sans" font-size="7.4" font-weight="bold" text-anchor="middle" fill="#000">**</text>
<line x1="103.75" y1="326.10" x2="103.75" y2="321.52" stroke="#6b7cfb" stroke-width="0.8"/>
<line x1="100.35" y1="321.52" x2="107.15" y2="321.52" stroke="#6b7cfb" stroke-width="0.8"/>
<rect x="97.70" y="326.10" width="12.10" height="65.40" fill="#8898fd" stroke="#6b7cfb" stroke-width="1.0"/>
<circle cx="102.25" cy="321.52" r="1.8" fill="#5068fb"/>
<circle cx="100.15" cy="327.41" r="1.8" fill="#5068fb"/>
<circle cx="107.35" cy="326.10" r="1.8" fill="#5068fb"/>
<line x1="123.55" y1="352.26" x2="123.55" y2="350.95" stroke="#ff6a4e" stroke-width="0.8"/>
<line x1="120.15" y1="350.95" x2="126.95" y2="350.95" stroke="#ff6a4e" stroke-width="0.8"/>
<rect x="117.50" y="352.26" width="12.10" height="39.24" fill="#ff907b" stroke="#ff6a4e" stroke-width="1.0"/>
<circle cx="119.95" cy="352.91" r="1.8" fill="#ff4a28"/>
<circle cx="123.55" cy="350.95" r="1.8" fill="#ff4a28"/>
<circle cx="127.15" cy="352.26" r="1.8" fill="#ff4a28"/>
<text x="123.55" y="350.20" font-family="Liberation Sans" font-size="7.4" font-weight="bold" text-anchor="middle" fill="#000">***</text>
<line x1="38.40" y1="391.50" x2="136.20" y2="391.50" stroke="#111" stroke-width="1"/>
<line x1="38.40" y1="292.90" x2="38.40" y2="392.00" stroke="#111" stroke-width="1"/>
<line x1="34.20" y1="391.50" x2="38.40" y2="391.50" stroke="#111" stroke-width="1"/>
<text x="32.60" y="394.20" font-family="Liberation Sans" font-size="7.5" font-weight="bold" text-anchor="end" fill="#000">0.0</text>
<line x1="34.20" y1="358.80" x2="38.40" y2="358.80" stroke="#111" stroke-width="1"/>
<text x="32.60" y="361.50" font-family="Liberation Sans" font-size="7.5" font-weight="bold" text-anchor="end" fill="#000">0.5</text>
<line x1="34.20" y1="326.10" x2="38.40" y2="326.10" stroke="#111" stroke-width="1"/>
<text x="32.60" y="328.80" font-family="Liberation Sans" font-size="7.5" font-weight="bold" text-anchor="end" fill="#000">1.0</text>
<line x1="34.20" y1="293.40" x2="38.40" y2="293.40" stroke="#111" stroke-width="1"/>
<text x="32.60" y="296.10" font-family="Liberation Sans" font-size="7.5" font-weight="bold" text-anchor="end" fill="#000">1.5</text>
<line x1="61.30" y1="391.50" x2="61.30" y2="395.00" stroke="#111" stroke-width="1"/>
<text x="61.30" y="404.64" font-family="Liberation Sans" font-size="7.6" font-weight="bold" text-anchor="middle" fill="#000">786-O</text>
<line x1="113.50" y1="391.50" x2="113.50" y2="395.00" stroke="#111" stroke-width="1"/>
<text x="113.50" y="404.64" font-family="Liberation Sans" font-size="7.6" font-weight="bold" text-anchor="middle" fill="#000">769-P</text>
<text x="0" y="0" font-family="Liberation Sans" font-size="7.9" font-weight="bold" text-anchor="middle" fill="#000" transform="translate(16.84 342.60) rotate(-90)">Relative RBM47 expression</text>
<circle cx="139.30" cy="304.30" r="1.8" fill="#7b8ef9"/>
<text x="150.80" y="307.07" font-family="Liberation Sans" font-size="7.7" font-weight="normal" text-anchor="start" fill="#000">DMSO</text>
<circle cx="139.30" cy="318.20" r="1.8" fill="#ff826a"/>
<text x="150.80" y="320.97" font-family="Liberation Sans" font-size="7.7" font-weight="normal" text-anchor="start" fill="#000">C646</text>
<text x="2.00" y="418.72" font-family="Liberation Serif" font-size="15" font-weight="bold" text-anchor="start" fill="#000">H</text>
<line x1="53.20" y1="461.40" x2="53.20" y2="458.11" stroke="#6b7cfb" stroke-width="0.8"/>
<line x1="49.80" y1="458.11" x2="56.60" y2="458.11" stroke="#6b7cfb" stroke-width="0.8"/>
<rect x="47.40" y="461.40" width="11.60" height="65.80" fill="#8898fd" stroke="#6b7cfb" stroke-width="1.0"/>
<circle cx="49.60" cy="458.77" r="1.8" fill="#5068fb"/>
<circle cx="53.20" cy="464.69" r="1.8" fill="#5068fb"/>
<circle cx="56.80" cy="459.43" r="1.8" fill="#5068fb"/>
<line x1="72.90" y1="494.30" x2="72.90" y2="491.67" stroke="#ff6a4e" stroke-width="0.8"/>
<line x1="69.50" y1="491.67" x2="76.30" y2="491.67" stroke="#ff6a4e" stroke-width="0.8"/>
<rect x="67.00" y="494.30" width="11.80" height="32.90" fill="#ff907b" stroke="#ff6a4e" stroke-width="1.0"/>
<circle cx="69.30" cy="494.30" r="1.8" fill="#ff4a28"/>
<circle cx="72.90" cy="491.01" r="1.8" fill="#ff4a28"/>
<circle cx="76.50" cy="494.30" r="1.8" fill="#ff4a28"/>
<text x="72.90" y="490.00" font-family="Liberation Sans" font-size="7.4" font-weight="bold" text-anchor="middle" fill="#000">***</text>
<line x1="105.80" y1="461.40" x2="105.80" y2="458.11" stroke="#6b7cfb" stroke-width="0.8"/>
<line x1="102.40" y1="458.11" x2="109.20" y2="458.11" stroke="#6b7cfb" stroke-width="0.8"/>
<rect x="100.00" y="461.40" width="11.60" height="65.80" fill="#8898fd" stroke="#6b7cfb" stroke-width="1.0"/>
<circle cx="102.20" cy="458.77" r="1.8" fill="#5068fb"/>
<circle cx="105.80" cy="464.69" r="1.8" fill="#5068fb"/>
<circle cx="109.40" cy="459.43" r="1.8" fill="#5068fb"/>
<line x1="125.60" y1="490.35" x2="125.60" y2="489.04" stroke="#ff6a4e" stroke-width="0.8"/>
<line x1="122.20" y1="489.04" x2="129.00" y2="489.04" stroke="#ff6a4e" stroke-width="0.8"/>
<rect x="119.80" y="490.35" width="11.60" height="36.85" fill="#ff907b" stroke="#ff6a4e" stroke-width="1.0"/>
<circle cx="122.00" cy="490.35" r="1.8" fill="#ff4a28"/>
<circle cx="125.60" cy="489.04" r="1.8" fill="#ff4a28"/>
<circle cx="129.20" cy="490.35" r="1.8" fill="#ff4a28"/>
<text x="125.60" y="487.90" font-family="Liberation Sans" font-size="7.4" font-weight="bold" text-anchor="middle" fill="#000">***</text>
<line x1="40.20" y1="527.20" x2="138.50" y2="527.20" stroke="#111" stroke-width="1"/>
<line x1="40.20" y1="428.00" x2="40.20" y2="527.70" stroke="#111" stroke-width="1"/>
<line x1="36.00" y1="527.20" x2="40.20" y2="527.20" stroke="#111" stroke-width="1"/>
<text x="34.50" y="529.90" font-family="Liberation Sans" font-size="7.5" font-weight="bold" text-anchor="end" fill="#000">0.0</text>
<line x1="36.00" y1="494.30" x2="40.20" y2="494.30" stroke="#111" stroke-width="1"/>
<text x="34.50" y="497.00" font-family="Liberation Sans" font-size="7.5" font-weight="bold" text-anchor="end" fill="#000">0.5</text>
<line x1="36.00" y1="461.40" x2="40.20" y2="461.40" stroke="#111" stroke-width="1"/>
<text x="34.50" y="464.10" font-family="Liberation Sans" font-size="7.5" font-weight="bold" text-anchor="end" fill="#000">1.0</text>
<line x1="36.00" y1="428.50" x2="40.20" y2="428.50" stroke="#111" stroke-width="1"/>
<text x="34.50" y="431.20" font-family="Liberation Sans" font-size="7.5" font-weight="bold" text-anchor="end" fill="#000">1.5</text>
<line x1="63.20" y1="527.20" x2="63.20" y2="530.70" stroke="#111" stroke-width="1"/>
<text x="63.20" y="540.14" font-family="Liberation Sans" font-size="7.6" font-weight="bold" text-anchor="middle" fill="#000">786-O</text>
<line x1="115.60" y1="527.20" x2="115.60" y2="530.70" stroke="#111" stroke-width="1"/>
<text x="115.60" y="540.14" font-family="Liberation Sans" font-size="7.6" font-weight="bold" text-anchor="middle" fill="#000">769-P</text>
<text x="0" y="0" font-family="Liberation Sans" font-size="7.9" font-weight="bold" text-anchor="middle" fill="#000" transform="translate(16.64 478.00) rotate(-90)">Relative RBM47 expression</text>
<circle cx="142.30" cy="435.40" r="1.8" fill="#7b8ef9"/>
<text x="153.70" y="438.17" font-family="Liberation Sans" font-size="7.7" font-weight="normal" text-anchor="start" fill="#000">ctrl</text>
<circle cx="142.30" cy="449.10" r="1.8" fill="#ff826a"/>
<text x="153.70" y="451.87" font-family="Liberation Sans" font-size="7.7" font-weight="normal" text-anchor="start" fill="#000">si-CBP</text>
<text x="359.30" y="287.82" font-family="Liberation Serif" font-size="15" font-weight="bold" text-anchor="start" fill="#000">G</text>
<rect x="408.00" y="392.94" width="9.80" height="1.06" fill="#8c9cf6" stroke="#1f3cff" stroke-width="1.0"/>
<circle cx="409.00" cy="392.94" r="1.6" fill="#1f3cff"/>
<circle cx="412.90" cy="392.94" r="1.6" fill="#1f3cff"/>
<circle cx="416.80" cy="392.94" r="1.6" fill="#1f3cff"/>
<rect x="425.00" y="392.94" width="9.80" height="1.06" fill="#ff9e8a" stroke="#ff3010" stroke-width="1.0"/>
<circle cx="426.00" cy="392.94" r="1.6" fill="#ff3010"/>
<circle cx="429.90" cy="392.94" r="1.6" fill="#ff3010"/>
<circle cx="433.80" cy="392.94" r="1.6" fill="#ff3010"/>
<line x1="458.55" y1="334.57" x2="458.55" y2="332.98" stroke="#1f3cff" stroke-width="0.8"/>
<line x1="455.40" y1="332.98" x2="461.70" y2="332.98" stroke="#1f3cff" stroke-width="0.8"/>
<rect x="453.80" y="334.57" width="9.50" height="59.43" fill="#8c9cf6" stroke="#1f3cff" stroke-width="1.0"/>
<circle cx="455.75" cy="335.10" r="1.5" fill="#1f3cff"/>
<circle cx="458.55" cy="332.98" r="1.5" fill="#1f3cff"/>
<circle cx="461.35" cy="334.57" r="1.5" fill="#1f3cff"/>
<line x1="475.55" y1="382.01" x2="475.55" y2="380.95" stroke="#ff3010" stroke-width="0.8"/>
<line x1="472.28" y1="380.95" x2="478.82" y2="380.95" stroke="#ff3010" stroke-width="0.8"/>
<rect x="470.60" y="382.01" width="9.90" height="11.99" fill="#ff9e8a" stroke="#ff3010" stroke-width="1.0"/>
<circle cx="472.75" cy="382.01" r="1.5" fill="#ff3010"/>
<circle cx="475.55" cy="380.95" r="1.5" fill="#ff3010"/>
<circle cx="478.35" cy="382.01" r="1.5" fill="#ff3010"/>
<text x="475.55" y="380.60" font-family="Liberation Sans" font-size="6.0" font-weight="bold" text-anchor="middle" fill="#000">***</text>
<line x1="401.30" y1="394.00" x2="486.80" y2="394.00" stroke="#111" stroke-width="1"/>
<line x1="401.30" y1="308.60" x2="401.30" y2="394.50" stroke="#111" stroke-width="1"/>
<line x1="397.90" y1="394.00" x2="401.30" y2="394.00" stroke="#111" stroke-width="1"/>
<text x="396.00" y="396.23" font-family="Liberation Sans" font-size="6.2" font-weight="bold" text-anchor="end" fill="#000">0</text>
<line x1="397.90" y1="372.77" x2="401.30" y2="372.77" stroke="#111" stroke-width="1"/>
<text x="396.00" y="375.01" font-family="Liberation Sans" font-size="6.2" font-weight="bold" text-anchor="end" fill="#000">20</text>
<line x1="397.90" y1="351.55" x2="401.30" y2="351.55" stroke="#111" stroke-width="1"/>
<text x="396.00" y="353.78" font-family="Liberation Sans" font-size="6.2" font-weight="bold" text-anchor="end" fill="#000">40</text>
<line x1="397.90" y1="330.32" x2="401.30" y2="330.32" stroke="#111" stroke-width="1"/>
<text x="396.00" y="332.56" font-family="Liberation Sans" font-size="6.2" font-weight="bold" text-anchor="end" fill="#000">60</text>
<line x1="397.90" y1="309.10" x2="401.30" y2="309.10" stroke="#111" stroke-width="1"/>
<text x="396.00" y="311.33" font-family="Liberation Sans" font-size="6.2" font-weight="bold" text-anchor="end" fill="#000">80</text>
<line x1="421.40" y1="394.00" x2="421.40" y2="397.00" stroke="#111" stroke-width="1"/>
<text x="421.40" y="405.18" font-family="Liberation Sans" font-size="6.6" font-weight="bold" text-anchor="middle" fill="#000">IgG</text>
<line x1="466.60" y1="394.00" x2="466.60" y2="397.00" stroke="#111" stroke-width="1"/>
<text x="466.60" y="405.18" font-family="Liberation Sans" font-size="6.6" font-weight="bold" text-anchor="middle" fill="#000">H3K27ac</text>
<text x="0" y="0" font-family="Liberation Sans" font-size="6.85" font-weight="bold" text-anchor="middle" fill="#000" transform="translate(384.17 351.50) rotate(-90)">Relative H3K27ac enrichment</text>
<text x="444.30" y="295.88" font-family="Liberation Sans" font-size="8.0" font-weight="bold" text-anchor="middle" fill="#000">786-O</text>
<circle cx="485.70" cy="320.50" r="1.75" fill="#1f3cff"/>
<text x="495.50" y="322.95" font-family="Liberation Sans" font-size="6.8" font-weight="normal" text-anchor="start" fill="#000">DMSO</text>
<circle cx="485.70" cy="332.60" r="1.75" fill="#ff2d1a"/>
<text x="495.50" y="335.05" font-family="Liberation Sans" font-size="6.8" font-weight="normal" text-anchor="start" fill="#000">C646</text>
<rect x="568.60" y="392.19" width="9.70" height="1.41" fill="#8898fd" stroke="#6b7cfb" stroke-width="1.0"/>
<circle cx="569.60" cy="392.19" r="1.6" fill="#5068fb"/>
<circle cx="573.45" cy="392.19" r="1.6" fill="#5068fb"/>
<circle cx="577.30" cy="392.19" r="1.6" fill="#5068fb"/>
<rect x="585.30" y="392.19" width="9.80" height="1.41" fill="#ff907b" stroke="#ff6a4e" stroke-width="1.0"/>
<circle cx="586.30" cy="392.19" r="1.6" fill="#ff4a28"/>
<circle cx="590.20" cy="392.19" r="1.6" fill="#ff4a28"/>
<circle cx="594.10" cy="392.19" r="1.6" fill="#ff4a28"/>
<line x1="618.80" y1="323.81" x2="618.80" y2="321.69" stroke="#6b7cfb" stroke-width="0.8"/>
<line x1="615.44" y1="321.69" x2="622.16" y2="321.69" stroke="#6b7cfb" stroke-width="0.8"/>
<rect x="613.70" y="323.81" width="10.20" height="69.80" fill="#8898fd" stroke="#6b7cfb" stroke-width="1.0"/>
<circle cx="616.00" cy="324.51" r="1.5" fill="#5068fb"/>
<circle cx="618.80" cy="321.69" r="1.5" fill="#5068fb"/>
<circle cx="621.60" cy="323.81" r="1.5" fill="#5068fb"/>
<line x1="635.90" y1="379.50" x2="635.90" y2="378.09" stroke="#ff6a4e" stroke-width="0.8"/>
<line x1="632.48" y1="378.09" x2="639.32" y2="378.09" stroke="#ff6a4e" stroke-width="0.8"/>
<rect x="630.70" y="379.50" width="10.40" height="14.10" fill="#ff907b" stroke="#ff6a4e" stroke-width="1.0"/>
<circle cx="633.10" cy="379.50" r="1.5" fill="#ff4a28"/>
<circle cx="635.90" cy="378.09" r="1.5" fill="#ff4a28"/>
<circle cx="638.70" cy="379.50" r="1.5" fill="#ff4a28"/>
<text x="635.90" y="378.30" font-family="Liberation Sans" font-size="6.0" font-weight="bold" text-anchor="middle" fill="#000">***</text>
<line x1="561.90" y1="393.60" x2="647.20" y2="393.60" stroke="#111" stroke-width="1"/>
<line x1="561.90" y1="308.50" x2="561.90" y2="394.10" stroke="#111" stroke-width="1"/>
<line x1="558.50" y1="393.60" x2="561.90" y2="393.60" stroke="#111" stroke-width="1"/>
<text x="557.10" y="395.83" font-family="Liberation Sans" font-size="6.2" font-weight="bold" text-anchor="end" fill="#000">0</text>
<line x1="558.50" y1="365.40" x2="561.90" y2="365.40" stroke="#111" stroke-width="1"/>
<text x="557.10" y="367.63" font-family="Liberation Sans" font-size="6.2" font-weight="bold" text-anchor="end" fill="#000">20</text>
<line x1="558.50" y1="337.20" x2="561.90" y2="337.20" stroke="#111" stroke-width="1"/>
<text x="557.10" y="339.43" font-family="Liberation Sans" font-size="6.2" font-weight="bold" text-anchor="end" fill="#000">40</text>
<line x1="558.50" y1="309.00" x2="561.90" y2="309.00" stroke="#111" stroke-width="1"/>
<text x="557.10" y="311.23" font-family="Liberation Sans" font-size="6.2" font-weight="bold" text-anchor="end" fill="#000">60</text>
<line x1="581.70" y1="393.60" x2="581.70" y2="396.60" stroke="#111" stroke-width="1"/>
<text x="581.70" y="405.18" font-family="Liberation Sans" font-size="6.6" font-weight="bold" text-anchor="middle" fill="#000">IgG</text>
<line x1="627.20" y1="393.60" x2="627.20" y2="396.60" stroke="#111" stroke-width="1"/>
<text x="627.20" y="405.18" font-family="Liberation Sans" font-size="6.6" font-weight="bold" text-anchor="middle" fill="#000">H3K27ac</text>
<text x="0" y="0" font-family="Liberation Sans" font-size="6.85" font-weight="bold" text-anchor="middle" fill="#000" transform="translate(544.57 352.00) rotate(-90)">Relative H3K27ac enrichment</text>
<text x="604.50" y="296.08" font-family="Liberation Sans" font-size="8.0" font-weight="bold" text-anchor="middle" fill="#000">769-P</text>
<circle cx="648.80" cy="312.90" r="1.75" fill="#7b8ef9"/>
<text x="658.70" y="315.35" font-family="Liberation Sans" font-size="6.8" font-weight="normal" text-anchor="start" fill="#000">DMSO</text>
<circle cx="648.80" cy="325.00" r="1.75" fill="#ff826a"/>
<text x="658.70" y="327.45" font-family="Liberation Sans" font-size="6.8" font-weight="normal" text-anchor="start" fill="#000">C646</text>
<text x="367.00" y="418.82" font-family="Liberation Serif" font-size="15" font-weight="bold" text-anchor="start" fill="#000">J</text>
<rect x="409.80" y="530.53" width="9.80" height="1.07" fill="#8898fd" stroke="#6b7cfb" stroke-width="1.0"/>
<circle cx="410.80" cy="530.53" r="1.6" fill="#5068fb"/>
<circle cx="414.70" cy="530.53" r="1.6" fill="#5068fb"/>
<circle cx="418.60" cy="530.53" r="1.6" fill="#5068fb"/>
<rect x="426.80" y="530.53" width="9.80" height="1.07" fill="#ff907b" stroke="#ff6a4e" stroke-width="1.0"/>
<circle cx="427.80" cy="530.53" r="1.6" fill="#ff4a28"/>
<circle cx="431.70" cy="530.53" r="1.6" fill="#ff4a28"/>
<circle cx="435.60" cy="530.53" r="1.6" fill="#ff4a28"/>
<line x1="460.85" y1="459.71" x2="460.85" y2="458.12" stroke="#6b7cfb" stroke-width="0.8"/>
<line x1="457.46" y1="458.12" x2="464.24" y2="458.12" stroke="#6b7cfb" stroke-width="0.8"/>
<rect x="455.70" y="459.71" width="10.30" height="71.89" fill="#8898fd" stroke="#6b7cfb" stroke-width="1.0"/>
<circle cx="458.05" cy="460.25" r="1.5" fill="#5068fb"/>
<circle cx="460.85" cy="458.12" r="1.5" fill="#5068fb"/>
<circle cx="463.65" cy="459.71" r="1.5" fill="#5068fb"/>
<line x1="477.90" y1="514.56" x2="477.90" y2="513.50" stroke="#ff6a4e" stroke-width="0.8"/>
<line x1="474.48" y1="513.50" x2="481.32" y2="513.50" stroke="#ff6a4e" stroke-width="0.8"/>
<rect x="472.70" y="514.56" width="10.40" height="17.04" fill="#ff907b" stroke="#ff6a4e" stroke-width="1.0"/>
<circle cx="475.10" cy="514.56" r="1.5" fill="#ff4a28"/>
<circle cx="477.90" cy="513.50" r="1.5" fill="#ff4a28"/>
<circle cx="480.70" cy="514.56" r="1.5" fill="#ff4a28"/>
<text x="477.90" y="512.30" font-family="Liberation Sans" font-size="6.0" font-weight="bold" text-anchor="middle" fill="#000">***</text>
<line x1="403.00" y1="531.60" x2="489.80" y2="531.60" stroke="#111" stroke-width="1"/>
<line x1="403.00" y1="445.90" x2="403.00" y2="532.10" stroke="#111" stroke-width="1"/>
<line x1="399.60" y1="531.60" x2="403.00" y2="531.60" stroke="#111" stroke-width="1"/>
<text x="397.80" y="533.83" font-family="Liberation Sans" font-size="6.2" font-weight="bold" text-anchor="end" fill="#000">0</text>
<line x1="399.60" y1="510.30" x2="403.00" y2="510.30" stroke="#111" stroke-width="1"/>
<text x="397.80" y="512.53" font-family="Liberation Sans" font-size="6.2" font-weight="bold" text-anchor="end" fill="#000">20</text>
<line x1="399.60" y1="489.00" x2="403.00" y2="489.00" stroke="#111" stroke-width="1"/>
<text x="397.80" y="491.23" font-family="Liberation Sans" font-size="6.2" font-weight="bold" text-anchor="end" fill="#000">40</text>
<line x1="399.60" y1="467.70" x2="403.00" y2="467.70" stroke="#111" stroke-width="1"/>
<text x="397.80" y="469.93" font-family="Liberation Sans" font-size="6.2" font-weight="bold" text-anchor="end" fill="#000">60</text>
<line x1="399.60" y1="446.40" x2="403.00" y2="446.40" stroke="#111" stroke-width="1"/>
<text x="397.80" y="448.63" font-family="Liberation Sans" font-size="6.2" font-weight="bold" text-anchor="end" fill="#000">80</text>
<line x1="423.20" y1="531.60" x2="423.20" y2="534.60" stroke="#111" stroke-width="1"/>
<text x="423.20" y="543.28" font-family="Liberation Sans" font-size="6.6" font-weight="bold" text-anchor="middle" fill="#000">IgG</text>
<line x1="469.30" y1="531.60" x2="469.30" y2="534.60" stroke="#111" stroke-width="1"/>
<text x="469.30" y="543.28" font-family="Liberation Sans" font-size="6.6" font-weight="bold" text-anchor="middle" fill="#000">H3K27ac</text>
<text x="0" y="0" font-family="Liberation Sans" font-size="6.85" font-weight="bold" text-anchor="middle" fill="#000" transform="translate(385.97 489.00) rotate(-90)">Relative H3K27ac enrichment</text>
<text x="446.10" y="434.58" font-family="Liberation Sans" font-size="8.0" font-weight="bold" text-anchor="middle" fill="#000">786-O</text>
<circle cx="492.60" cy="451.10" r="1.75" fill="#7b8ef9"/>
<text x="502.50" y="453.55" font-family="Liberation Sans" font-size="6.8" font-weight="normal" text-anchor="start" fill="#000">ctrl</text>
<circle cx="492.60" cy="463.40" r="1.75" fill="#ff826a"/>
<text x="502.50" y="465.85" font-family="Liberation Sans" font-size="6.8" font-weight="normal" text-anchor="start" fill="#000">si-CBP</text>
<rect x="568.60" y="530.79" width="9.70" height="1.41" fill="#8898fd" stroke="#6b7cfb" stroke-width="1.0"/>
<circle cx="569.60" cy="530.79" r="1.6" fill="#5068fb"/>
<circle cx="573.45" cy="530.79" r="1.6" fill="#5068fb"/>
<circle cx="577.30" cy="530.79" r="1.6" fill="#5068fb"/>
<rect x="585.30" y="530.79" width="9.80" height="1.41" fill="#ff907b" stroke="#ff6a4e" stroke-width="1.0"/>
<circle cx="586.30" cy="530.79" r="1.6" fill="#ff4a28"/>
<circle cx="590.20" cy="530.79" r="1.6" fill="#ff4a28"/>
<circle cx="594.10" cy="530.79" r="1.6" fill="#ff4a28"/>
<line x1="618.65" y1="462.95" x2="618.65" y2="460.83" stroke="#6b7cfb" stroke-width="0.8"/>
<line x1="615.38" y1="460.83" x2="621.92" y2="460.83" stroke="#6b7cfb" stroke-width="0.8"/>
<rect x="613.70" y="462.95" width="9.90" height="69.25" fill="#8898fd" stroke="#6b7cfb" stroke-width="1.0"/>
<circle cx="615.85" cy="463.65" r="1.5" fill="#5068fb"/>
<circle cx="618.65" cy="460.83" r="1.5" fill="#5068fb"/>
<circle cx="621.45" cy="462.95" r="1.5" fill="#5068fb"/>
<line x1="635.60" y1="517.78" x2="635.60" y2="516.37" stroke="#ff6a4e" stroke-width="0.8"/>
<line x1="632.18" y1="516.37" x2="639.02" y2="516.37" stroke="#ff6a4e" stroke-width="0.8"/>
<rect x="630.40" y="517.78" width="10.40" height="14.42" fill="#ff907b" stroke="#ff6a4e" stroke-width="1.0"/>
<circle cx="632.80" cy="517.78" r="1.5" fill="#ff4a28"/>
<circle cx="635.60" cy="516.37" r="1.5" fill="#ff4a28"/>
<circle cx="638.40" cy="517.78" r="1.5" fill="#ff4a28"/>
<text x="635.60" y="515.50" font-family="Liberation Sans" font-size="6.0" font-weight="bold" text-anchor="middle" fill="#000">***</text>
<line x1="561.90" y1="532.20" x2="646.90" y2="532.20" stroke="#111" stroke-width="1"/>
<line x1="561.90" y1="446.90" x2="561.90" y2="532.70" stroke="#111" stroke-width="1"/>
<line x1="558.50" y1="532.20" x2="561.90" y2="532.20" stroke="#111" stroke-width="1"/>
<text x="557.00" y="534.43" font-family="Liberation Sans" font-size="6.2" font-weight="bold" text-anchor="end" fill="#000">0</text>
<line x1="558.50" y1="503.93" x2="561.90" y2="503.93" stroke="#111" stroke-width="1"/>
<text x="557.00" y="506.17" font-family="Liberation Sans" font-size="6.2" font-weight="bold" text-anchor="end" fill="#000">20</text>
<line x1="558.50" y1="475.67" x2="561.90" y2="475.67" stroke="#111" stroke-width="1"/>
<text x="557.00" y="477.90" font-family="Liberation Sans" font-size="6.2" font-weight="bold" text-anchor="end" fill="#000">40</text>
<line x1="558.50" y1="447.40" x2="561.90" y2="447.40" stroke="#111" stroke-width="1"/>
<text x="557.00" y="449.63" font-family="Liberation Sans" font-size="6.2" font-weight="bold" text-anchor="end" fill="#000">60</text>
<line x1="581.70" y1="532.20" x2="581.70" y2="535.20" stroke="#111" stroke-width="1"/>
<text x="581.70" y="543.28" font-family="Liberation Sans" font-size="6.6" font-weight="bold" text-anchor="middle" fill="#000">IgG</text>
<line x1="626.70" y1="532.20" x2="626.70" y2="535.20" stroke="#111" stroke-width="1"/>
<text x="626.70" y="543.28" font-family="Liberation Sans" font-size="6.6" font-weight="bold" text-anchor="middle" fill="#000">H3K27ac</text>
<text x="0" y="0" font-family="Liberation Sans" font-size="6.85" font-weight="bold" text-anchor="middle" fill="#000" transform="translate(544.57 489.70) rotate(-90)">Relative H3K27ac enrichment</text>
<text x="604.50" y="434.28" font-family="Liberation Sans" font-size="8.0" font-weight="bold" text-anchor="middle" fill="#000">769-P</text>
<circle cx="652.90" cy="451.40" r="1.75" fill="#7b8ef9"/>
<text x="662.80" y="453.85" font-family="Liberation Sans" font-size="6.8" font-weight="normal" text-anchor="start" fill="#000">ctrl</text>
<circle cx="652.90" cy="463.50" r="1.75" fill="#ff826a"/>
<text x="662.80" y="465.95" font-family="Liberation Sans" font-size="6.8" font-weight="normal" text-anchor="start" fill="#000">si-CBP</text>
<text x="175.50" y="287.62" font-family="Liberation Serif" font-size="15" font-weight="bold" text-anchor="start" fill="#000">F</text>
<text x="263.00" y="296.10" font-family="Liberation Serif" font-size="11.4" font-weight="bold" text-anchor="middle" fill="#000">786-O</text>
<text x="312.60" y="296.10" font-family="Liberation Serif" font-size="11.4" font-weight="bold" text-anchor="middle" fill="#000">769-P</text>
<line x1="237.00" y1="299.80" x2="283.40" y2="299.80" stroke="#26388a" stroke-width="1.8"/>
<line x1="289.10" y1="299.80" x2="335.80" y2="299.80" stroke="#26388a" stroke-width="1.8"/>
<text x="0" y="0" font-family="Liberation Serif" font-size="9.9" font-weight="bold" transform="translate(250.3 332) rotate(-45)">DMSO</text>
<text x="0" y="0" font-family="Liberation Serif" font-size="9.9" font-weight="bold" transform="translate(273 332) rotate(-45)">C646</text>
<text x="0" y="0" font-family="Liberation Serif" font-size="9.9" font-weight="bold" transform="translate(299.5 332) rotate(-45)">DMSO</text>
<text x="0" y="0" font-family="Liberation Serif" font-size="9.9" font-weight="bold" transform="translate(322.1 332) rotate(-45)">C646</text>
<rect x="231.50" y="340.80" width="107.40" height="25.70" fill="#fcfcfc" stroke="#26388a" stroke-width="1.2"/>
<rect x="231.50" y="370.60" width="107.40" height="25.70" fill="#fbfbfb" stroke="#111" stroke-width="1.3"/>
<text x="223.30" y="355.57" font-family="Liberation Serif" font-size="11.3" font-weight="bold" text-anchor="end" fill="#000">RBM47</text>
<text x="223.60" y="382.07" font-family="Liberation Serif" font-size="11.3" font-weight="bold" text-anchor="end" fill="#000">GAPDH</text>
<rect x="238.4" y="351.10" width="19.5" height="6.4" rx="5" ry="3.2" fill="#000" opacity="0.120" filter="url(#bl2)"/>
<rect x="239.7" y="352.50" width="16.9" height="3.60" rx="4" ry="1.80" fill="#000" opacity="1" filter="url(#bl)"/>
<rect x="264.0" y="351.90" width="18.4" height="4.8" rx="5" ry="2.4" fill="#000" opacity="0.094" filter="url(#bl2)"/>
<rect x="265.3" y="353.30" width="15.8" height="2.00" rx="4" ry="1.00" fill="#000" opacity="0.78" filter="url(#bl)"/>
<rect x="288.8" y="350.90" width="17.4" height="6.800000000000001" rx="5" ry="3.4000000000000004" fill="#000" opacity="0.120" filter="url(#bl2)"/>
<rect x="290.1" y="352.30" width="14.8" height="4.00" rx="4" ry="2.00" fill="#000" opacity="1" filter="url(#bl)"/>
<rect x="313.3" y="351.90" width="18.7" height="4.8" rx="5" ry="2.4" fill="#000" opacity="0.084" filter="url(#bl2)"/>
<rect x="314.6" y="353.30" width="16.1" height="2.00" rx="4" ry="1.00" fill="#000" opacity="0.7" filter="url(#bl)"/>
<rect x="237.7" y="379.60" width="20.7" height="7.199999999999999" rx="5" ry="3.5999999999999996" fill="#000" opacity="0.120" filter="url(#bl2)"/>
<rect x="239.0" y="381.00" width="18.1" height="4.40" rx="4" ry="2.20" fill="#000" opacity="1" filter="url(#bl)"/>
<rect x="261.7" y="379.60" width="22.1" height="7.199999999999999" rx="5" ry="3.5999999999999996" fill="#000" opacity="0.120" filter="url(#bl2)"/>
<rect x="263.0" y="381.00" width="19.5" height="4.40" rx="4" ry="2.20" fill="#000" opacity="1" filter="url(#bl)"/>
<rect x="287.0" y="379.60" width="21.3" height="7.199999999999999" rx="5" ry="3.5999999999999996" fill="#000" opacity="0.120" filter="url(#bl2)"/>
<rect x="288.3" y="381.00" width="18.7" height="4.40" rx="4" ry="2.20" fill="#000" opacity="1" filter="url(#bl)"/>
<rect x="309.8" y="379.50" width="21.3" height="7.4" rx="5" ry="3.7" fill="#000" opacity="0.120" filter="url(#bl2)"/>
<rect x="311.1" y="380.90" width="18.7" height="4.60" rx="4" ry="2.30" fill="#000" opacity="1" filter="url(#bl)"/>
<text x="191.90" y="418.82" font-family="Liberation Serif" font-size="15" font-weight="bold" text-anchor="start" fill="#000">I</text>
<text x="267.60" y="433.90" font-family="Liberation Serif" font-size="11.4" font-weight="bold" text-anchor="middle" fill="#000">786-O</text>
<text x="317.60" y="433.90" font-family="Liberation Serif" font-size="11.4" font-weight="bold" text-anchor="middle" fill="#000">769-P</text>
<line x1="242.00" y1="437.30" x2="288.00" y2="437.30" stroke="#26388a" stroke-width="1.8"/>
<line x1="294.10" y1="437.30" x2="340.00" y2="437.30" stroke="#26388a" stroke-width="1.8"/>
<text x="0" y="0" font-family="Liberation Serif" font-size="9.9" font-weight="bold" transform="translate(255.4 470.4) rotate(-45)">ctrl</text>
<text x="0" y="0" font-family="Liberation Serif" font-size="9.9" font-weight="bold" transform="translate(274.4 472.9) rotate(-45)">si-CBP</text>
<text x="0" y="0" font-family="Liberation Serif" font-size="9.9" font-weight="bold" transform="translate(305 470.4) rotate(-45)">ctrl</text>
<text x="0" y="0" font-family="Liberation Serif" font-size="9.9" font-weight="bold" transform="translate(322.9 472.9) rotate(-45)">si-CBP</text>
<rect x="234.90" y="476.50" width="107.60" height="25.60" fill="#fcfcfc" stroke="#26388a" stroke-width="1.2"/>
<rect x="234.90" y="505.40" width="107.60" height="25.40" fill="#fbfbfb" stroke="#26388a" stroke-width="1.3"/>
<text x="227.70" y="493.97" font-family="Liberation Serif" font-size="11.3" font-weight="bold" text-anchor="end" fill="#000">RBM47</text>
<text x="228.60" y="520.07" font-family="Liberation Serif" font-size="11.3" font-weight="bold" text-anchor="end" fill="#000">GAPDH</text>
<rect x="243.0" y="487.40" width="20.9" height="8.2" rx="5" ry="4.1" fill="#000" opacity="0.120" filter="url(#bl2)"/>
<rect x="244.3" y="488.80" width="18.3" height="5.40" rx="4" ry="2.70" fill="#000" opacity="1" filter="url(#bl)"/>
<rect x="267.9" y="488.65" width="19.1" height="5.699999999999999" rx="5" ry="2.8499999999999996" fill="#000" opacity="0.114" filter="url(#bl2)"/>
<rect x="269.2" y="490.05" width="16.5" height="2.90" rx="4" ry="1.45" fill="#000" opacity="0.95" filter="url(#bl)"/>
<rect x="291.7" y="487.60" width="20.8" height="7.800000000000001" rx="5" ry="3.9000000000000004" fill="#000" opacity="0.120" filter="url(#bl2)"/>
<rect x="293.0" y="489.00" width="18.2" height="5.00" rx="4" ry="2.50" fill="#000" opacity="1" filter="url(#bl)"/>
<rect x="316.0" y="488.10" width="21.0" height="6.800000000000001" rx="5" ry="3.4000000000000004" fill="#000" opacity="0.120" filter="url(#bl2)"/>
<rect x="317.3" y="489.50" width="18.4" height="4.00" rx="4" ry="2.00" fill="#000" opacity="1" filter="url(#bl)"/>
<rect x="240.4" y="515.25" width="20.0" height="5.9" rx="5" ry="2.95" fill="#000" opacity="0.114" filter="url(#bl2)"/>
<rect x="241.7" y="516.65" width="17.4" height="3.10" rx="4" ry="1.55" fill="#000" opacity="0.95" filter="url(#bl)"/>
<rect x="265.4" y="515.25" width="20.8" height="5.9" rx="5" ry="2.95" fill="#000" opacity="0.114" filter="url(#bl2)"/>
<rect x="266.7" y="516.65" width="18.2" height="3.10" rx="4" ry="1.55" fill="#000" opacity="0.95" filter="url(#bl)"/>
<rect x="291.2" y="515.10" width="20.8" height="6.199999999999999" rx="5" ry="3.0999999999999996" fill="#000" opacity="0.114" filter="url(#bl2)"/>
<rect x="292.5" y="516.50" width="18.2" height="3.40" rx="4" ry="1.70" fill="#000" opacity="0.95" filter="url(#bl)"/>
<rect x="316.0" y="514.80" width="21.5" height="6.800000000000001" rx="5" ry="3.4000000000000004" fill="#000" opacity="0.120" filter="url(#bl2)"/>
<rect x="317.3" y="516.20" width="18.9" height="4.00" rx="4" ry="2.00" fill="#000" opacity="1" filter="url(#bl)"/>
<text x="2.30" y="569.93" font-family="Liberation Serif" font-size="15" font-weight="bold" text-anchor="start" fill="#000">K</text>
<rect x="43.00" y="571.60" width="141.50" height="135.50" fill="none" stroke="#a0a0a0" stroke-width="1.1"/>
<line x1="40.00" y1="706.40" x2="43.00" y2="706.40" stroke="#777" stroke-width="0.7"/>
<text x="0" y="0" font-family="Liberation Sans" font-size="5.6" font-weight="normal" text-anchor="middle" fill="#333" transform="translate(37.02 706.40) rotate(-90)">1</text>
<line x1="40.00" y1="686.23" x2="43.00" y2="686.23" stroke="#777" stroke-width="0.7"/>
<text x="0" y="0" font-family="Liberation Sans" font-size="5.6" font-weight="normal" text-anchor="middle" fill="#333" transform="translate(37.02 686.23) rotate(-90)">2</text>
<line x1="40.00" y1="666.06" x2="43.00" y2="666.06" stroke="#777" stroke-width="0.7"/>
<text x="0" y="0" font-family="Liberation Sans" font-size="5.6" font-weight="normal" text-anchor="middle" fill="#333" transform="translate(37.02 666.06) rotate(-90)">3</text>
<line x1="40.00" y1="645.89" x2="43.00" y2="645.89" stroke="#777" stroke-width="0.7"/>
<text x="0" y="0" font-family="Liberation Sans" font-size="5.6" font-weight="normal" text-anchor="middle" fill="#333" transform="translate(37.02 645.89) rotate(-90)">4</text>
<line x1="40.00" y1="625.72" x2="43.00" y2="625.72" stroke="#777" stroke-width="0.7"/>
<text x="0" y="0" font-family="Liberation Sans" font-size="5.6" font-weight="normal" text-anchor="middle" fill="#333" transform="translate(37.02 625.72) rotate(-90)">5</text>
<line x1="40.00" y1="605.55" x2="43.00" y2="605.55" stroke="#777" stroke-width="0.7"/>
<text x="0" y="0" font-family="Liberation Sans" font-size="5.6" font-weight="normal" text-anchor="middle" fill="#333" transform="translate(37.02 605.55) rotate(-90)">6</text>
<line x1="40.00" y1="585.38" x2="43.00" y2="585.38" stroke="#777" stroke-width="0.7"/>
<text x="0" y="0" font-family="Liberation Sans" font-size="5.6" font-weight="normal" text-anchor="middle" fill="#333" transform="translate(37.02 585.38) rotate(-90)">7</text>
<line x1="67.80" y1="707.10" x2="67.80" y2="710.10" stroke="#777" stroke-width="0.7"/>
<text x="67.80" y="718.92" font-family="Liberation Sans" font-size="5.6" font-weight="normal" text-anchor="middle" fill="#333">1</text>
<line x1="93.70" y1="707.10" x2="93.70" y2="710.10" stroke="#777" stroke-width="0.7"/>
<text x="93.70" y="718.92" font-family="Liberation Sans" font-size="5.6" font-weight="normal" text-anchor="middle" fill="#333">2</text>
<line x1="119.60" y1="707.10" x2="119.60" y2="710.10" stroke="#777" stroke-width="0.7"/>
<text x="119.60" y="718.92" font-family="Liberation Sans" font-size="5.6" font-weight="normal" text-anchor="middle" fill="#333">3</text>
<line x1="145.50" y1="707.10" x2="145.50" y2="710.10" stroke="#777" stroke-width="0.7"/>
<text x="145.50" y="718.92" font-family="Liberation Sans" font-size="5.6" font-weight="normal" text-anchor="middle" fill="#333">4</text>
<line x1="171.40" y1="707.10" x2="171.40" y2="710.10" stroke="#777" stroke-width="0.7"/>
<text x="171.40" y="718.92" font-family="Liberation Sans" font-size="5.6" font-weight="normal" text-anchor="middle" fill="#333">5</text>
<text x="113.50" y="731.37" font-family="Liberation Sans" font-size="7.7" font-weight="normal" text-anchor="middle" fill="#222">log2(EP300 TPM)</text>
<text x="0" y="0" font-family="Liberation Sans" font-size="7.6" font-weight="normal" text-anchor="middle" fill="#222" transform="translate(22.94 639.60) rotate(-90)">log2(RBM47 TPM)</text>
<text x="51.30" y="582.05" font-family="Liberation Sans" font-size="6.8" font-weight="normal" text-anchor="start" fill="#111">p&#8722;value = 0</text>
<text x="51.30" y="590.25" font-family="Liberation Sans" font-size="6.8" font-weight="normal" text-anchor="start" fill="#111">R = 0.54</text>
<g fill="#000"><circle cx="48.4" cy="634.8" r="0.8"/><circle cx="58.7" cy="648.9" r="0.8"/><circle cx="75.6" cy="639.8" r="0.8"/><circle cx="83.3" cy="668.1" r="0.8"/><circle cx="92.4" cy="684.2" r="0.8"/><circle cx="126.1" cy="696.3" r="0.8"/><circle cx="149.4" cy="702.4" r="0.8"/><circle cx="153.3" cy="682.2" r="0.8"/><circle cx="144.2" cy="577.3" r="0.8"/><circle cx="161.0" cy="585.4" r="0.8"/><circle cx="167.5" cy="584.4" r="0.8"/><circle cx="177.9" cy="600.5" r="0.8"/><circle cx="180.5" cy="615.6" r="0.8"/><circle cx="84.6" cy="628.7" r="0.8"/><circle cx="85.9" cy="631.8" r="0.8"/><circle cx="87.2" cy="654.0" r="0.8"/><circle cx="88.5" cy="645.9" r="0.8"/><circle cx="96.3" cy="672.1" r="0.8"/><circle cx="101.5" cy="674.1" r="0.8"/><circle cx="107.9" cy="674.1" r="0.8"/><circle cx="113.1" cy="670.1" r="0.8"/><circle cx="124.8" cy="670.1" r="0.8"/><circle cx="127.4" cy="670.1" r="0.8"/><circle cx="153.3" cy="660.0" r="0.8"/><circle cx="153.3" cy="656.0" r="0.8"/><circle cx="111.8" cy="605.6" r="0.8"/><circle cx="159.1" cy="603.6" r="0.8"/><circle cx="136.0" cy="626.1" r="0.8"/><circle cx="144.5" cy="620.4" r="0.8"/><circle cx="153.2" cy="614.7" r="0.8"/><circle cx="151.2" cy="621.1" r="0.8"/><circle cx="126.2" cy="643.7" r="0.8"/><circle cx="119.9" cy="617.8" r="0.8"/><circle cx="154.8" cy="620.9" r="0.8"/><circle cx="156.3" cy="609.9" r="0.8"/><circle cx="130.1" cy="623.2" r="0.8"/><circle cx="136.7" cy="616.3" r="0.8"/><circle cx="156.3" cy="612.7" r="0.8"/><circle cx="111.1" cy="640.4" r="0.8"/><circle cx="137.6" cy="621.5" r="0.8"/><circle cx="118.8" cy="649.2" r="0.8"/><circle cx="122.0" cy="633.6" r="0.8"/><circle cx="112.8" cy="613.7" r="0.8"/><circle cx="129.1" cy="620.5" r="0.8"/><circle cx="144.4" cy="620.2" r="0.8"/><circle cx="123.9" cy="653.5" r="0.8"/><circle cx="113.6" cy="627.8" r="0.8"/><circle cx="135.6" cy="629.0" r="0.8"/><circle cx="137.4" cy="637.6" r="0.8"/><circle cx="142.8" cy="624.6" r="0.8"/><circle cx="172.1" cy="608.1" r="0.8"/><circle cx="133.6" cy="617.2" r="0.8"/><circle cx="140.5" cy="621.0" r="0.8"/><circle cx="168.7" cy="603.8" r="0.8"/><circle cx="148.3" cy="610.1" r="0.8"/><circle cx="135.8" cy="628.1" r="0.8"/><circle cx="165.9" cy="620.8" r="0.8"/><circle cx="119.6" cy="629.7" r="0.8"/><circle cx="172.4" cy="621.5" r="0.8"/><circle cx="152.3" cy="611.2" r="0.8"/><circle cx="130.9" cy="625.6" r="0.8"/><circle cx="161.6" cy="612.1" r="0.8"/><circle cx="118.8" cy="640.8" r="0.8"/><circle cx="102.5" cy="649.8" r="0.8"/><circle cx="151.0" cy="619.6" r="0.8"/><circle cx="140.1" cy="646.2" r="0.8"/><circle cx="143.2" cy="618.6" r="0.8"/><circle cx="152.6" cy="615.4" r="0.8"/><circle cx="154.3" cy="609.2" r="0.8"/><circle cx="155.5" cy="615.2" r="0.8"/><circle cx="146.2" cy="618.1" r="0.8"/><circle cx="116.1" cy="646.6" r="0.8"/><circle cx="141.0" cy="615.4" r="0.8"/><circle cx="171.9" cy="629.3" r="0.8"/><circle cx="142.6" cy="620.8" r="0.8"/><circle cx="142.5" cy="615.7" r="0.8"/><circle cx="123.8" cy="637.1" r="0.8"/><circle cx="114.3" cy="644.3" r="0.8"/><circle cx="163.7" cy="609.6" r="0.8"/><circle cx="136.6" cy="646.6" r="0.8"/><circle cx="142.8" cy="617.3" r="0.8"/><circle cx="98.0" cy="654.1" r="0.8"/><circle cx="152.1" cy="601.5" r="0.8"/><circle cx="137.7" cy="649.3" r="0.8"/><circle cx="121.5" cy="648.1" r="0.8"/><circle cx="146.2" cy="617.9" r="0.8"/><circle cx="146.2" cy="613.1" r="0.8"/><circle cx="137.1" cy="636.7" r="0.8"/><circle cx="157.6" cy="626.8" r="0.8"/><circle cx="149.8" cy="611.9" r="0.8"/><circle cx="153.2" cy="604.9" r="0.8"/><circle cx="130.9" cy="646.8" r="0.8"/><circle cx="124.0" cy="643.5" r="0.8"/><circle cx="143.2" cy="641.3" r="0.8"/><circle cx="113.3" cy="642.7" r="0.8"/><circle cx="109.5" cy="628.0" r="0.8"/><circle cx="110.7" cy="637.9" r="0.8"/><circle cx="120.8" cy="647.1" r="0.8"/><circle cx="164.4" cy="596.1" r="0.8"/><circle cx="138.4" cy="616.4" r="0.8"/><circle cx="114.9" cy="651.6" r="0.8"/><circle cx="149.6" cy="616.9" r="0.8"/><circle cx="111.9" cy="655.2" r="0.8"/><circle cx="95.8" cy="642.1" r="0.8"/><circle cx="124.8" cy="630.5" r="0.8"/><circle cx="149.1" cy="606.9" r="0.8"/><circle cx="142.1" cy="619.3" r="0.8"/><circle cx="112.6" cy="634.2" r="0.8"/><circle cx="159.2" cy="618.5" r="0.8"/><circle cx="104.6" cy="647.5" r="0.8"/><circle cx="161.9" cy="611.1" r="0.8"/><circle cx="171.3" cy="607.4" r="0.8"/><circle cx="127.6" cy="626.0" r="0.8"/><circle cx="140.9" cy="612.9" r="0.8"/><circle cx="149.4" cy="622.0" r="0.8"/><circle cx="148.2" cy="611.8" r="0.8"/><circle cx="103.9" cy="648.4" r="0.8"/><circle cx="135.3" cy="640.5" r="0.8"/><circle cx="132.6" cy="626.3" r="0.8"/><circle cx="105.4" cy="643.0" r="0.8"/><circle cx="166.8" cy="614.6" r="0.8"/><circle cx="132.5" cy="638.5" r="0.8"/><circle cx="171.3" cy="613.5" r="0.8"/><circle cx="158.2" cy="607.6" r="0.8"/><circle cx="148.4" cy="615.2" r="0.8"/><circle cx="128.6" cy="660.2" r="0.8"/><circle cx="144.1" cy="632.7" r="0.8"/><circle cx="173.2" cy="621.8" r="0.8"/><circle cx="160.6" cy="615.3" r="0.8"/><circle cx="172.5" cy="608.3" r="0.8"/><circle cx="133.9" cy="621.0" r="0.8"/><circle cx="151.9" cy="609.9" r="0.8"/><circle cx="140.2" cy="630.4" r="0.8"/><circle cx="159.6" cy="612.4" r="0.8"/><circle cx="143.4" cy="621.1" r="0.8"/><circle cx="131.3" cy="664.7" r="0.8"/><circle cx="147.7" cy="616.4" r="0.8"/><circle cx="121.2" cy="634.5" r="0.8"/><circle cx="168.4" cy="617.4" r="0.8"/><circle cx="165.3" cy="595.3" r="0.8"/><circle cx="146.4" cy="623.0" r="0.8"/><circle cx="142.9" cy="629.3" r="0.8"/><circle cx="165.1" cy="615.3" r="0.8"/><circle cx="146.5" cy="618.5" r="0.8"/><circle cx="157.4" cy="621.4" r="0.8"/><circle cx="120.1" cy="638.1" r="0.8"/><circle cx="159.0" cy="606.0" r="0.8"/><circle cx="154.0" cy="612.7" r="0.8"/><circle cx="151.4" cy="610.1" r="0.8"/><circle cx="148.7" cy="625.4" r="0.8"/><circle cx="153.3" cy="609.2" r="0.8"/><circle cx="148.1" cy="617.2" r="0.8"/><circle cx="113.4" cy="645.9" r="0.8"/><circle cx="153.7" cy="617.6" r="0.8"/><circle cx="107.0" cy="641.0" r="0.8"/><circle cx="108.9" cy="637.3" r="0.8"/><circle cx="135.2" cy="635.4" r="0.8"/><circle cx="116.8" cy="657.4" r="0.8"/><circle cx="145.6" cy="617.5" r="0.8"/><circle cx="167.3" cy="603.7" r="0.8"/><circle cx="150.9" cy="614.3" r="0.8"/><circle cx="136.8" cy="645.6" r="0.8"/><circle cx="148.6" cy="611.4" r="0.8"/><circle cx="155.8" cy="607.4" r="0.8"/><circle cx="149.3" cy="596.1" r="0.8"/><circle cx="147.7" cy="618.5" r="0.8"/><circle cx="133.0" cy="624.1" r="0.8"/><circle cx="146.8" cy="619.3" r="0.8"/><circle cx="159.1" cy="608.9" r="0.8"/><circle cx="159.0" cy="612.5" r="0.8"/><circle cx="134.4" cy="630.4" r="0.8"/><circle cx="109.8" cy="659.9" r="0.8"/><circle cx="112.5" cy="637.7" r="0.8"/><circle cx="135.7" cy="619.7" r="0.8"/><circle cx="171.8" cy="603.2" r="0.8"/><circle cx="106.0" cy="659.7" r="0.8"/><circle cx="133.3" cy="624.7" r="0.8"/><circle cx="160.0" cy="626.3" r="0.8"/><circle cx="96.2" cy="662.8" r="0.8"/><circle cx="118.6" cy="648.9" r="0.8"/><circle cx="156.3" cy="608.9" r="0.8"/><circle cx="156.6" cy="624.0" r="0.8"/><circle cx="134.4" cy="634.2" r="0.8"/><circle cx="171.2" cy="607.5" r="0.8"/><circle cx="104.6" cy="647.6" r="0.8"/><circle cx="143.5" cy="623.4" r="0.8"/><circle cx="157.2" cy="611.4" r="0.8"/><circle cx="128.7" cy="619.6" r="0.8"/><circle cx="108.2" cy="645.4" r="0.8"/><circle cx="139.1" cy="636.1" r="0.8"/><circle cx="144.8" cy="622.8" r="0.8"/><circle cx="147.6" cy="604.9" r="0.8"/><circle cx="146.2" cy="620.1" r="0.8"/><circle cx="145.8" cy="607.2" r="0.8"/><circle cx="116.9" cy="650.3" r="0.8"/><circle cx="133.9" cy="623.2" r="0.8"/><circle cx="154.9" cy="619.0" r="0.8"/><circle cx="124.7" cy="639.6" r="0.8"/><circle cx="162.5" cy="632.0" r="0.8"/><circle cx="147.1" cy="613.4" r="0.8"/><circle cx="126.8" cy="623.7" r="0.8"/><circle cx="116.5" cy="636.6" r="0.8"/><circle cx="154.7" cy="624.7" r="0.8"/><circle cx="119.2" cy="648.8" r="0.8"/><circle cx="119.0" cy="641.0" r="0.8"/><circle cx="133.9" cy="624.8" r="0.8"/><circle cx="155.6" cy="609.1" r="0.8"/><circle cx="148.5" cy="618.9" r="0.8"/><circle cx="126.0" cy="643.0" r="0.8"/><circle cx="115.1" cy="666.1" r="0.8"/><circle cx="139.1" cy="616.8" r="0.8"/><circle cx="110.8" cy="650.3" r="0.8"/><circle cx="147.4" cy="616.3" r="0.8"/><circle cx="153.5" cy="622.1" r="0.8"/><circle cx="122.2" cy="631.1" r="0.8"/><circle cx="152.7" cy="608.9" r="0.8"/><circle cx="141.6" cy="645.0" r="0.8"/><circle cx="174.4" cy="616.8" r="0.8"/><circle cx="147.3" cy="621.7" r="0.8"/><circle cx="99.5" cy="643.9" r="0.8"/><circle cx="147.2" cy="616.5" r="0.8"/><circle cx="133.4" cy="626.0" r="0.8"/><circle cx="141.8" cy="608.3" r="0.8"/><circle cx="120.9" cy="624.2" r="0.8"/><circle cx="136.0" cy="627.3" r="0.8"/><circle cx="152.7" cy="611.6" r="0.8"/><circle cx="112.1" cy="644.0" r="0.8"/><circle cx="137.8" cy="633.4" r="0.8"/><circle cx="150.1" cy="614.3" r="0.8"/><circle cx="156.1" cy="611.5" r="0.8"/><circle cx="123.6" cy="637.6" r="0.8"/><circle cx="109.6" cy="639.2" r="0.8"/><circle cx="139.7" cy="617.2" r="0.8"/><circle cx="142.3" cy="599.5" r="0.8"/><circle cx="129.8" cy="627.4" r="0.8"/><circle cx="124.6" cy="630.2" r="0.8"/><circle cx="136.7" cy="618.6" r="0.8"/><circle cx="139.0" cy="651.0" r="0.8"/><circle cx="168.0" cy="606.7" r="0.8"/><circle cx="103.5" cy="645.4" r="0.8"/><circle cx="125.1" cy="617.2" r="0.8"/><circle cx="145.7" cy="653.2" r="0.8"/><circle cx="153.9" cy="612.8" r="0.8"/><circle cx="135.3" cy="643.0" r="0.8"/><circle cx="107.6" cy="661.2" r="0.8"/><circle cx="144.6" cy="621.1" r="0.8"/><circle cx="125.7" cy="613.6" r="0.8"/><circle cx="145.8" cy="615.5" r="0.8"/><circle cx="134.9" cy="634.7" r="0.8"/><circle cx="162.4" cy="607.6" r="0.8"/><circle cx="141.1" cy="618.0" r="0.8"/><circle cx="159.0" cy="613.1" r="0.8"/><circle cx="166.1" cy="613.4" r="0.8"/><circle cx="111.9" cy="643.0" r="0.8"/><circle cx="167.7" cy="612.7" r="0.8"/><circle cx="163.2" cy="610.3" r="0.8"/><circle cx="112.6" cy="639.8" r="0.8"/><circle cx="131.3" cy="639.5" r="0.8"/><circle cx="141.0" cy="614.5" r="0.8"/><circle cx="130.3" cy="617.6" r="0.8"/><circle cx="112.5" cy="644.2" r="0.8"/><circle cx="112.2" cy="625.1" r="0.8"/><circle cx="152.0" cy="602.7" r="0.8"/><circle cx="162.6" cy="614.8" r="0.8"/><circle cx="150.3" cy="608.9" r="0.8"/><circle cx="129.8" cy="638.6" r="0.8"/><circle cx="156.2" cy="592.6" r="0.8"/><circle cx="152.4" cy="615.7" r="0.8"/><circle cx="169.6" cy="619.1" r="0.8"/><circle cx="155.2" cy="626.1" r="0.8"/><circle cx="160.1" cy="594.8" r="0.8"/><circle cx="142.8" cy="627.7" r="0.8"/><circle cx="139.9" cy="617.1" r="0.8"/><circle cx="158.6" cy="613.6" r="0.8"/><circle cx="154.5" cy="616.9" r="0.8"/><circle cx="125.7" cy="628.3" r="0.8"/><circle cx="128.8" cy="647.6" r="0.8"/><circle cx="135.8" cy="623.1" r="0.8"/><circle cx="126.9" cy="627.9" r="0.8"/><circle cx="136.6" cy="631.5" r="0.8"/><circle cx="122.6" cy="642.8" r="0.8"/><circle cx="175.0" cy="598.8" r="0.8"/><circle cx="147.6" cy="637.0" r="0.8"/><circle cx="143.5" cy="599.7" r="0.8"/><circle cx="146.5" cy="606.0" r="0.8"/><circle cx="147.9" cy="618.0" r="0.8"/><circle cx="139.7" cy="640.2" r="0.8"/><circle cx="132.5" cy="634.2" r="0.8"/><circle cx="179.0" cy="609.8" r="0.8"/><circle cx="148.0" cy="609.7" r="0.8"/><circle cx="155.5" cy="617.6" r="0.8"/><circle cx="120.3" cy="661.2" r="0.8"/><circle cx="112.3" cy="650.3" r="0.8"/><circle cx="133.5" cy="614.2" r="0.8"/><circle cx="155.1" cy="602.0" r="0.8"/><circle cx="151.2" cy="616.3" r="0.8"/><circle cx="131.5" cy="605.3" r="0.8"/><circle cx="133.3" cy="635.7" r="0.8"/><circle cx="160.6" cy="607.1" r="0.8"/><circle cx="112.4" cy="641.4" r="0.8"/><circle cx="134.0" cy="634.0" r="0.8"/><circle cx="134.2" cy="648.1" r="0.8"/><circle cx="153.9" cy="621.9" r="0.8"/><circle cx="133.3" cy="615.6" r="0.8"/><circle cx="148.2" cy="612.2" r="0.8"/><circle cx="160.8" cy="620.1" r="0.8"/><circle cx="115.9" cy="617.6" r="0.8"/><circle cx="150.8" cy="602.1" r="0.8"/><circle cx="128.8" cy="637.3" r="0.8"/><circle cx="158.5" cy="628.5" r="0.8"/><circle cx="133.7" cy="632.6" r="0.8"/><circle cx="161.0" cy="591.5" r="0.8"/><circle cx="159.4" cy="616.8" r="0.8"/><circle cx="111.7" cy="641.6" r="0.8"/><circle cx="128.5" cy="638.9" r="0.8"/><circle cx="141.5" cy="625.8" r="0.8"/><circle cx="153.6" cy="611.6" r="0.8"/><circle cx="132.8" cy="633.0" r="0.8"/><circle cx="159.6" cy="612.7" r="0.8"/><circle cx="127.1" cy="628.9" r="0.8"/><circle cx="152.7" cy="626.8" r="0.8"/><circle cx="158.5" cy="608.7" r="0.8"/><circle cx="144.5" cy="623.2" r="0.8"/><circle cx="143.6" cy="628.9" r="0.8"/><circle cx="136.7" cy="604.4" r="0.8"/><circle cx="137.0" cy="627.1" r="0.8"/><circle cx="176.8" cy="626.8" r="0.8"/><circle cx="154.9" cy="602.6" r="0.8"/><circle cx="176.0" cy="605.0" r="0.8"/><circle cx="153.7" cy="623.8" r="0.8"/><circle cx="114.0" cy="641.8" r="0.8"/><circle cx="130.5" cy="630.7" r="0.8"/><circle cx="139.0" cy="624.4" r="0.8"/><circle cx="140.8" cy="622.2" r="0.8"/><circle cx="118.8" cy="634.9" r="0.8"/><circle cx="124.7" cy="628.7" r="0.8"/><circle cx="124.6" cy="633.3" r="0.8"/><circle cx="138.4" cy="634.9" r="0.8"/><circle cx="159.6" cy="617.1" r="0.8"/><circle cx="102.9" cy="662.3" r="0.8"/><circle cx="150.1" cy="623.6" r="0.8"/><circle cx="161.9" cy="625.3" r="0.8"/><circle cx="150.7" cy="609.1" r="0.8"/><circle cx="143.2" cy="618.1" r="0.8"/><circle cx="143.7" cy="638.5" r="0.8"/><circle cx="127.9" cy="633.5" r="0.8"/><circle cx="151.5" cy="620.7" r="0.8"/><circle cx="130.8" cy="630.4" r="0.8"/><circle cx="133.1" cy="620.3" r="0.8"/><circle cx="140.5" cy="630.0" r="0.8"/><circle cx="165.9" cy="608.6" r="0.8"/><circle cx="150.1" cy="603.4" r="0.8"/><circle cx="113.5" cy="641.7" r="0.8"/><circle cx="153.4" cy="613.4" r="0.8"/><circle cx="159.8" cy="608.2" r="0.8"/><circle cx="165.9" cy="607.3" r="0.8"/><circle cx="145.8" cy="634.4" r="0.8"/><circle cx="162.5" cy="608.6" r="0.8"/><circle cx="154.8" cy="616.9" r="0.8"/><circle cx="145.3" cy="630.4" r="0.8"/><circle cx="136.1" cy="604.4" r="0.8"/><circle cx="175.9" cy="610.8" r="0.8"/><circle cx="155.2" cy="634.3" r="0.8"/><circle cx="135.2" cy="613.2" r="0.8"/><circle cx="156.4" cy="618.9" r="0.8"/><circle cx="132.6" cy="625.1" r="0.8"/><circle cx="125.1" cy="630.2" r="0.8"/><circle cx="146.6" cy="617.3" r="0.8"/><circle cx="164.2" cy="594.3" r="0.8"/><circle cx="129.0" cy="641.0" r="0.8"/><circle cx="135.3" cy="625.2" r="0.8"/><circle cx="131.4" cy="613.2" r="0.8"/><circle cx="124.6" cy="638.1" r="0.8"/><circle cx="166.3" cy="610.7" r="0.8"/><circle cx="151.1" cy="623.6" r="0.8"/><circle cx="110.3" cy="649.8" r="0.8"/><circle cx="113.9" cy="640.9" r="0.8"/><circle cx="147.4" cy="622.9" r="0.8"/><circle cx="124.2" cy="648.5" r="0.8"/><circle cx="142.3" cy="627.6" r="0.8"/><circle cx="155.3" cy="614.3" r="0.8"/><circle cx="133.9" cy="621.1" r="0.8"/><circle cx="129.1" cy="631.0" r="0.8"/><circle cx="123.2" cy="639.3" r="0.8"/><circle cx="157.6" cy="609.3" r="0.8"/><circle cx="133.1" cy="631.3" r="0.8"/><circle cx="137.6" cy="630.3" r="0.8"/><circle cx="157.0" cy="616.9" r="0.8"/><circle cx="163.3" cy="604.7" r="0.8"/><circle cx="125.1" cy="649.6" r="0.8"/><circle cx="166.7" cy="609.1" r="0.8"/><circle cx="137.1" cy="613.9" r="0.8"/><circle cx="167.5" cy="614.9" r="0.8"/><circle cx="151.3" cy="618.6" r="0.8"/><circle cx="140.2" cy="618.9" r="0.8"/><circle cx="148.5" cy="619.8" r="0.8"/><circle cx="154.8" cy="617.2" r="0.8"/><circle cx="136.1" cy="630.6" r="0.8"/><circle cx="151.2" cy="622.0" r="0.8"/><circle cx="146.8" cy="616.7" r="0.8"/><circle cx="126.8" cy="655.1" r="0.8"/><circle cx="160.1" cy="624.7" r="0.8"/><circle cx="147.4" cy="628.3" r="0.8"/><circle cx="155.5" cy="611.4" r="0.8"/><circle cx="137.1" cy="611.7" r="0.8"/><circle cx="134.9" cy="648.9" r="0.8"/><circle cx="135.0" cy="627.8" r="0.8"/><circle cx="111.1" cy="645.8" r="0.8"/><circle cx="156.9" cy="615.8" r="0.8"/><circle cx="133.2" cy="634.3" r="0.8"/><circle cx="146.9" cy="639.6" r="0.8"/><circle cx="108.6" cy="625.4" r="0.8"/><circle cx="150.0" cy="599.3" r="0.8"/><circle cx="141.4" cy="633.5" r="0.8"/><circle cx="95.4" cy="647.3" r="0.8"/><circle cx="131.7" cy="645.0" r="0.8"/><circle cx="111.1" cy="648.6" r="0.8"/><circle cx="144.3" cy="622.8" r="0.8"/><circle cx="124.2" cy="636.9" r="0.8"/><circle cx="158.8" cy="617.0" r="0.8"/><circle cx="151.8" cy="616.5" r="0.8"/><circle cx="107.5" cy="658.9" r="0.8"/><circle cx="139.6" cy="626.4" r="0.8"/><circle cx="158.0" cy="628.3" r="0.8"/><circle cx="148.4" cy="619.6" r="0.8"/><circle cx="128.6" cy="638.9" r="0.8"/><circle cx="150.7" cy="616.0" r="0.8"/><circle cx="129.9" cy="651.1" r="0.8"/><circle cx="114.2" cy="650.0" r="0.8"/><circle cx="165.9" cy="602.1" r="0.8"/><circle cx="142.4" cy="613.3" r="0.8"/><circle cx="147.6" cy="612.0" r="0.8"/><circle cx="113.7" cy="636.3" r="0.8"/><circle cx="94.4" cy="652.3" r="0.8"/><circle cx="161.2" cy="610.8" r="0.8"/><circle cx="149.8" cy="625.6" r="0.8"/><circle cx="112.5" cy="645.8" r="0.8"/><circle cx="144.4" cy="619.2" r="0.8"/><circle cx="156.8" cy="614.5" r="0.8"/><circle cx="123.5" cy="639.4" r="0.8"/><circle cx="125.0" cy="628.6" r="0.8"/><circle cx="136.1" cy="624.0" r="0.8"/><circle cx="119.9" cy="614.2" r="0.8"/><circle cx="152.5" cy="603.8" r="0.8"/><circle cx="162.3" cy="604.3" r="0.8"/><circle cx="152.8" cy="629.2" r="0.8"/><circle cx="112.9" cy="651.3" r="0.8"/><circle cx="126.6" cy="617.7" r="0.8"/><circle cx="150.3" cy="618.8" r="0.8"/><circle cx="145.8" cy="601.6" r="0.8"/><circle cx="128.6" cy="615.7" r="0.8"/><circle cx="132.6" cy="623.4" r="0.8"/><circle cx="122.6" cy="655.7" r="0.8"/><circle cx="144.6" cy="615.9" r="0.8"/><circle cx="109.9" cy="660.7" r="0.8"/><circle cx="127.4" cy="622.8" r="0.8"/><circle cx="158.2" cy="607.2" r="0.8"/><circle cx="122.9" cy="632.3" r="0.8"/><circle cx="140.9" cy="637.7" r="0.8"/><circle cx="153.5" cy="610.8" r="0.8"/><circle cx="140.5" cy="622.9" r="0.8"/><circle cx="161.2" cy="591.2" r="0.8"/><circle cx="151.5" cy="610.3" r="0.8"/><circle cx="120.3" cy="615.5" r="0.8"/><circle cx="120.6" cy="652.3" r="0.8"/><circle cx="144.1" cy="623.6" r="0.8"/><circle cx="145.5" cy="618.4" r="0.8"/><circle cx="153.2" cy="628.9" r="0.8"/><circle cx="138.4" cy="630.2" r="0.8"/><circle cx="137.6" cy="628.8" r="0.8"/><circle cx="134.8" cy="640.8" r="0.8"/><circle cx="148.0" cy="627.6" r="0.8"/><circle cx="143.5" cy="638.0" r="0.8"/><circle cx="113.6" cy="664.2" r="0.8"/><circle cx="112.3" cy="653.5" r="0.8"/><circle cx="144.0" cy="623.3" r="0.8"/><circle cx="152.2" cy="629.8" r="0.8"/><circle cx="148.1" cy="609.8" r="0.8"/><circle cx="138.5" cy="629.2" r="0.8"/><circle cx="130.4" cy="639.3" r="0.8"/><circle cx="124.7" cy="649.6" r="0.8"/><circle cx="151.7" cy="617.4" r="0.8"/><circle cx="160.1" cy="600.5" r="0.8"/><circle cx="115.7" cy="643.3" r="0.8"/><circle cx="128.2" cy="631.4" r="0.8"/><circle cx="132.5" cy="638.2" r="0.8"/><circle cx="121.5" cy="620.1" r="0.8"/><circle cx="142.9" cy="628.8" r="0.8"/><circle cx="151.7" cy="604.9" r="0.8"/><circle cx="157.8" cy="611.8" r="0.8"/><circle cx="161.5" cy="611.6" r="0.8"/><circle cx="144.2" cy="627.9" r="0.8"/><circle cx="151.5" cy="603.3" r="0.8"/><circle cx="112.3" cy="645.4" r="0.8"/><circle cx="114.5" cy="638.3" r="0.8"/><circle cx="152.0" cy="632.0" r="0.8"/><circle cx="131.8" cy="624.2" r="0.8"/><circle cx="159.9" cy="614.9" r="0.8"/><circle cx="158.1" cy="628.2" r="0.8"/><circle cx="143.6" cy="610.5" r="0.8"/><circle cx="154.2" cy="622.7" r="0.8"/><circle cx="120.7" cy="629.8" r="0.8"/><circle cx="140.7" cy="619.7" r="0.8"/><circle cx="146.2" cy="626.3" r="0.8"/><circle cx="143.4" cy="611.7" r="0.8"/><circle cx="135.7" cy="633.9" r="0.8"/><circle cx="171.0" cy="615.2" r="0.8"/><circle cx="161.3" cy="628.7" r="0.8"/><circle cx="139.3" cy="616.4" r="0.8"/><circle cx="150.0" cy="617.6" r="0.8"/><circle cx="116.2" cy="649.4" r="0.8"/><circle cx="154.0" cy="611.1" r="0.8"/><circle cx="117.5" cy="636.6" r="0.8"/><circle cx="124.4" cy="645.4" r="0.8"/><circle cx="102.9" cy="660.3" r="0.8"/><circle cx="141.9" cy="643.5" r="0.8"/><circle cx="129.3" cy="620.7" r="0.8"/><circle cx="147.4" cy="628.1" r="0.8"/><circle cx="111.7" cy="647.3" r="0.8"/><circle cx="157.8" cy="606.6" r="0.8"/><circle cx="141.0" cy="621.0" r="0.8"/><circle cx="132.0" cy="626.1" r="0.8"/><circle cx="149.5" cy="627.3" r="0.8"/><circle cx="130.4" cy="631.7" r="0.8"/><circle cx="111.7" cy="636.2" r="0.8"/><circle cx="140.2" cy="624.9" r="0.8"/><circle cx="165.6" cy="608.4" r="0.8"/><circle cx="133.8" cy="639.0" r="0.8"/><circle cx="105.8" cy="647.7" r="0.8"/><circle cx="144.3" cy="626.6" r="0.8"/><circle cx="134.5" cy="610.7" r="0.8"/><circle cx="132.5" cy="624.3" r="0.8"/><circle cx="125.9" cy="626.7" r="0.8"/><circle cx="125.2" cy="634.6" r="0.8"/><circle cx="154.3" cy="623.4" r="0.8"/><circle cx="146.0" cy="609.7" r="0.8"/><circle cx="107.9" cy="662.2" r="0.8"/><circle cx="143.6" cy="614.2" r="0.8"/><circle cx="133.1" cy="636.8" r="0.8"/><circle cx="143.5" cy="638.2" r="0.8"/></g>
<rect x="232.50" y="572.90" width="141.10" height="135.40" fill="none" stroke="#a0a0a0" stroke-width="1.1"/>
<line x1="229.50" y1="707.90" x2="232.50" y2="707.90" stroke="#777" stroke-width="0.7"/>
<text x="0" y="0" font-family="Liberation Sans" font-size="5.6" font-weight="normal" text-anchor="middle" fill="#333" transform="translate(226.52 707.90) rotate(-90)">1</text>
<line x1="229.50" y1="687.65" x2="232.50" y2="687.65" stroke="#777" stroke-width="0.7"/>
<text x="0" y="0" font-family="Liberation Sans" font-size="5.6" font-weight="normal" text-anchor="middle" fill="#333" transform="translate(226.52 687.65) rotate(-90)">2</text>
<line x1="229.50" y1="667.40" x2="232.50" y2="667.40" stroke="#777" stroke-width="0.7"/>
<text x="0" y="0" font-family="Liberation Sans" font-size="5.6" font-weight="normal" text-anchor="middle" fill="#333" transform="translate(226.52 667.40) rotate(-90)">3</text>
<line x1="229.50" y1="647.15" x2="232.50" y2="647.15" stroke="#777" stroke-width="0.7"/>
<text x="0" y="0" font-family="Liberation Sans" font-size="5.6" font-weight="normal" text-anchor="middle" fill="#333" transform="translate(226.52 647.15) rotate(-90)">4</text>
<line x1="229.50" y1="626.90" x2="232.50" y2="626.90" stroke="#777" stroke-width="0.7"/>
<text x="0" y="0" font-family="Liberation Sans" font-size="5.6" font-weight="normal" text-anchor="middle" fill="#333" transform="translate(226.52 626.90) rotate(-90)">5</text>
<line x1="229.50" y1="606.65" x2="232.50" y2="606.65" stroke="#777" stroke-width="0.7"/>
<text x="0" y="0" font-family="Liberation Sans" font-size="5.6" font-weight="normal" text-anchor="middle" fill="#333" transform="translate(226.52 606.65) rotate(-90)">6</text>
<line x1="229.50" y1="586.40" x2="232.50" y2="586.40" stroke="#777" stroke-width="0.7"/>
<text x="0" y="0" font-family="Liberation Sans" font-size="5.6" font-weight="normal" text-anchor="middle" fill="#333" transform="translate(226.52 586.40) rotate(-90)">7</text>
<line x1="261.60" y1="708.30" x2="261.60" y2="711.30" stroke="#777" stroke-width="0.7"/>
<text x="261.60" y="720.12" font-family="Liberation Sans" font-size="5.6" font-weight="normal" text-anchor="middle" fill="#333">2</text>
<line x1="291.53" y1="708.30" x2="291.53" y2="711.30" stroke="#777" stroke-width="0.7"/>
<text x="291.53" y="720.12" font-family="Liberation Sans" font-size="5.6" font-weight="normal" text-anchor="middle" fill="#333">3</text>
<line x1="321.46" y1="708.30" x2="321.46" y2="711.30" stroke="#777" stroke-width="0.7"/>
<text x="321.46" y="720.12" font-family="Liberation Sans" font-size="5.6" font-weight="normal" text-anchor="middle" fill="#333">4</text>
<line x1="351.39" y1="708.30" x2="351.39" y2="711.30" stroke="#777" stroke-width="0.7"/>
<text x="351.39" y="720.12" font-family="Liberation Sans" font-size="5.6" font-weight="normal" text-anchor="middle" fill="#333">5</text>
<text x="302.90" y="731.37" font-family="Liberation Sans" font-size="7.7" font-weight="normal" text-anchor="middle" fill="#222">log2(CREBBP TPM)</text>
<text x="0" y="0" font-family="Liberation Sans" font-size="7.6" font-weight="normal" text-anchor="middle" fill="#222" transform="translate(212.94 639.60) rotate(-90)">log2(RBM47 TPM)</text>
<text x="240.60" y="583.25" font-family="Liberation Sans" font-size="6.8" font-weight="normal" text-anchor="start" fill="#111">p&#8722;value = 0</text>
<text x="240.60" y="591.45" font-family="Liberation Sans" font-size="6.8" font-weight="normal" text-anchor="start" fill="#111">R = 0.44</text>
<g fill="#000"><circle cx="237.7" cy="649.2" r="0.8"/><circle cx="242.1" cy="641.1" r="0.8"/><circle cx="257.1" cy="629.9" r="0.8"/><circle cx="261.6" cy="655.2" r="0.8"/><circle cx="263.1" cy="669.4" r="0.8"/><circle cx="266.1" cy="684.6" r="0.8"/><circle cx="290.0" cy="697.8" r="0.8"/><circle cx="325.9" cy="703.9" r="0.8"/><circle cx="331.9" cy="683.6" r="0.8"/><circle cx="300.5" cy="578.3" r="0.8"/><circle cx="333.4" cy="585.4" r="0.8"/><circle cx="343.9" cy="585.4" r="0.8"/><circle cx="367.9" cy="601.6" r="0.8"/><circle cx="369.3" cy="622.9" r="0.8"/><circle cx="312.5" cy="589.4" r="0.8"/><circle cx="264.6" cy="673.5" r="0.8"/><circle cx="275.1" cy="649.2" r="0.8"/><circle cx="288.5" cy="675.5" r="0.8"/><circle cx="291.5" cy="675.5" r="0.8"/><circle cx="294.5" cy="671.4" r="0.8"/><circle cx="296.0" cy="671.4" r="0.8"/><circle cx="311.0" cy="671.4" r="0.8"/><circle cx="340.9" cy="661.3" r="0.8"/><circle cx="279.6" cy="659.3" r="0.8"/><circle cx="291.5" cy="606.6" r="0.8"/><circle cx="301.8" cy="637.5" r="0.8"/><circle cx="313.5" cy="626.5" r="0.8"/><circle cx="312.4" cy="627.2" r="0.8"/><circle cx="316.2" cy="627.0" r="0.8"/><circle cx="341.9" cy="631.2" r="0.8"/><circle cx="295.6" cy="644.4" r="0.8"/><circle cx="328.3" cy="622.0" r="0.8"/><circle cx="333.6" cy="617.4" r="0.8"/><circle cx="306.6" cy="621.1" r="0.8"/><circle cx="322.2" cy="632.1" r="0.8"/><circle cx="289.5" cy="639.2" r="0.8"/><circle cx="337.9" cy="626.0" r="0.8"/><circle cx="298.3" cy="630.7" r="0.8"/><circle cx="356.5" cy="605.7" r="0.8"/><circle cx="341.9" cy="625.1" r="0.8"/><circle cx="303.8" cy="637.2" r="0.8"/><circle cx="347.7" cy="621.3" r="0.8"/><circle cx="297.9" cy="636.1" r="0.8"/><circle cx="306.0" cy="645.6" r="0.8"/><circle cx="314.3" cy="603.9" r="0.8"/><circle cx="313.5" cy="627.5" r="0.8"/><circle cx="358.3" cy="605.9" r="0.8"/><circle cx="318.3" cy="628.3" r="0.8"/><circle cx="332.5" cy="625.2" r="0.8"/><circle cx="317.5" cy="623.8" r="0.8"/><circle cx="328.5" cy="595.7" r="0.8"/><circle cx="291.0" cy="617.4" r="0.8"/><circle cx="310.3" cy="615.1" r="0.8"/><circle cx="347.2" cy="600.7" r="0.8"/><circle cx="332.1" cy="603.5" r="0.8"/><circle cx="331.8" cy="616.7" r="0.8"/><circle cx="323.7" cy="626.4" r="0.8"/><circle cx="289.8" cy="632.0" r="0.8"/><circle cx="280.1" cy="643.3" r="0.8"/><circle cx="307.8" cy="629.2" r="0.8"/><circle cx="309.1" cy="643.5" r="0.8"/><circle cx="331.1" cy="643.6" r="0.8"/><circle cx="362.9" cy="617.0" r="0.8"/><circle cx="296.1" cy="636.8" r="0.8"/><circle cx="344.2" cy="618.2" r="0.8"/><circle cx="302.0" cy="614.9" r="0.8"/><circle cx="330.9" cy="614.8" r="0.8"/><circle cx="315.2" cy="629.4" r="0.8"/><circle cx="345.8" cy="626.8" r="0.8"/><circle cx="342.2" cy="620.4" r="0.8"/><circle cx="331.5" cy="609.9" r="0.8"/><circle cx="339.8" cy="609.5" r="0.8"/><circle cx="343.0" cy="610.1" r="0.8"/><circle cx="329.6" cy="630.4" r="0.8"/><circle cx="295.0" cy="643.3" r="0.8"/><circle cx="366.1" cy="607.5" r="0.8"/><circle cx="307.1" cy="636.4" r="0.8"/><circle cx="274.6" cy="644.6" r="0.8"/><circle cx="339.4" cy="618.0" r="0.8"/><circle cx="330.8" cy="641.4" r="0.8"/><circle cx="294.4" cy="660.8" r="0.8"/><circle cx="287.2" cy="627.7" r="0.8"/><circle cx="316.4" cy="641.8" r="0.8"/><circle cx="318.8" cy="643.8" r="0.8"/><circle cx="286.0" cy="632.1" r="0.8"/><circle cx="326.0" cy="621.0" r="0.8"/><circle cx="324.6" cy="643.3" r="0.8"/><circle cx="331.6" cy="633.1" r="0.8"/><circle cx="336.7" cy="622.3" r="0.8"/><circle cx="327.4" cy="625.9" r="0.8"/><circle cx="336.3" cy="604.0" r="0.8"/><circle cx="308.1" cy="641.9" r="0.8"/><circle cx="346.1" cy="615.4" r="0.8"/><circle cx="306.7" cy="628.9" r="0.8"/><circle cx="293.1" cy="651.6" r="0.8"/><circle cx="291.1" cy="625.3" r="0.8"/><circle cx="308.8" cy="619.9" r="0.8"/><circle cx="316.4" cy="640.8" r="0.8"/><circle cx="330.1" cy="616.0" r="0.8"/><circle cx="348.6" cy="631.3" r="0.8"/><circle cx="317.3" cy="635.4" r="0.8"/><circle cx="322.0" cy="620.9" r="0.8"/><circle cx="315.4" cy="618.3" r="0.8"/><circle cx="322.0" cy="606.3" r="0.8"/><circle cx="296.7" cy="637.9" r="0.8"/><circle cx="336.5" cy="620.9" r="0.8"/><circle cx="289.6" cy="646.2" r="0.8"/><circle cx="313.1" cy="633.0" r="0.8"/><circle cx="361.2" cy="608.5" r="0.8"/><circle cx="336.4" cy="616.6" r="0.8"/><circle cx="279.6" cy="639.5" r="0.8"/><circle cx="319.5" cy="660.3" r="0.8"/><circle cx="309.9" cy="621.8" r="0.8"/><circle cx="350.3" cy="613.9" r="0.8"/><circle cx="309.7" cy="626.2" r="0.8"/><circle cx="327.5" cy="632.8" r="0.8"/><circle cx="304.2" cy="648.9" r="0.8"/><circle cx="309.9" cy="637.8" r="0.8"/><circle cx="301.9" cy="643.9" r="0.8"/><circle cx="310.3" cy="642.0" r="0.8"/><circle cx="305.5" cy="636.7" r="0.8"/><circle cx="322.3" cy="635.3" r="0.8"/><circle cx="311.5" cy="615.6" r="0.8"/><circle cx="285.5" cy="658.1" r="0.8"/><circle cx="367.4" cy="625.5" r="0.8"/><circle cx="272.6" cy="652.4" r="0.8"/><circle cx="358.3" cy="622.5" r="0.8"/><circle cx="347.4" cy="610.3" r="0.8"/><circle cx="335.4" cy="630.4" r="0.8"/><circle cx="335.4" cy="622.5" r="0.8"/><circle cx="311.1" cy="624.8" r="0.8"/><circle cx="310.0" cy="629.5" r="0.8"/><circle cx="328.7" cy="639.6" r="0.8"/><circle cx="323.2" cy="635.1" r="0.8"/><circle cx="314.4" cy="628.9" r="0.8"/><circle cx="327.4" cy="606.4" r="0.8"/><circle cx="269.3" cy="651.9" r="0.8"/><circle cx="327.9" cy="612.7" r="0.8"/><circle cx="313.5" cy="638.5" r="0.8"/><circle cx="325.0" cy="632.7" r="0.8"/><circle cx="339.1" cy="606.6" r="0.8"/><circle cx="330.6" cy="622.1" r="0.8"/><circle cx="285.4" cy="644.4" r="0.8"/><circle cx="284.2" cy="649.0" r="0.8"/><circle cx="324.0" cy="624.0" r="0.8"/><circle cx="366.1" cy="615.8" r="0.8"/><circle cx="325.7" cy="621.3" r="0.8"/><circle cx="346.3" cy="635.0" r="0.8"/><circle cx="329.4" cy="615.2" r="0.8"/><circle cx="311.9" cy="637.1" r="0.8"/><circle cx="315.2" cy="631.9" r="0.8"/><circle cx="328.3" cy="629.3" r="0.8"/><circle cx="328.3" cy="624.5" r="0.8"/><circle cx="318.9" cy="621.7" r="0.8"/><circle cx="339.4" cy="606.7" r="0.8"/><circle cx="322.5" cy="616.1" r="0.8"/><circle cx="338.9" cy="612.6" r="0.8"/><circle cx="289.3" cy="653.2" r="0.8"/><circle cx="276.5" cy="661.6" r="0.8"/><circle cx="331.9" cy="638.0" r="0.8"/><circle cx="297.2" cy="629.5" r="0.8"/><circle cx="316.3" cy="590.1" r="0.8"/><circle cx="312.4" cy="627.3" r="0.8"/><circle cx="303.0" cy="631.7" r="0.8"/><circle cx="275.5" cy="636.3" r="0.8"/><circle cx="314.8" cy="617.0" r="0.8"/><circle cx="340.3" cy="603.7" r="0.8"/><circle cx="312.2" cy="635.3" r="0.8"/><circle cx="334.3" cy="631.0" r="0.8"/><circle cx="306.1" cy="631.8" r="0.8"/><circle cx="351.9" cy="611.3" r="0.8"/><circle cx="325.8" cy="624.4" r="0.8"/><circle cx="341.6" cy="599.5" r="0.8"/><circle cx="310.7" cy="637.0" r="0.8"/><circle cx="349.3" cy="618.2" r="0.8"/><circle cx="294.2" cy="628.1" r="0.8"/><circle cx="315.1" cy="619.8" r="0.8"/><circle cx="324.7" cy="640.3" r="0.8"/><circle cx="309.9" cy="622.4" r="0.8"/><circle cx="336.5" cy="613.4" r="0.8"/><circle cx="364.9" cy="608.2" r="0.8"/><circle cx="293.5" cy="663.6" r="0.8"/><circle cx="283.4" cy="634.5" r="0.8"/><circle cx="360.3" cy="613.5" r="0.8"/><circle cx="354.4" cy="621.9" r="0.8"/><circle cx="310.7" cy="646.0" r="0.8"/><circle cx="323.7" cy="643.0" r="0.8"/><circle cx="305.3" cy="648.8" r="0.8"/><circle cx="318.3" cy="627.2" r="0.8"/><circle cx="347.4" cy="614.9" r="0.8"/><circle cx="294.2" cy="646.4" r="0.8"/><circle cx="295.3" cy="649.3" r="0.8"/><circle cx="283.4" cy="650.2" r="0.8"/><circle cx="354.9" cy="613.3" r="0.8"/><circle cx="307.2" cy="669.7" r="0.8"/><circle cx="315.1" cy="636.0" r="0.8"/><circle cx="329.5" cy="619.2" r="0.8"/><circle cx="328.6" cy="618.2" r="0.8"/><circle cx="349.1" cy="621.9" r="0.8"/><circle cx="352.4" cy="616.6" r="0.8"/><circle cx="282.3" cy="661.1" r="0.8"/><circle cx="312.8" cy="635.5" r="0.8"/><circle cx="341.4" cy="619.8" r="0.8"/><circle cx="342.0" cy="607.3" r="0.8"/><circle cx="343.9" cy="612.8" r="0.8"/><circle cx="313.5" cy="628.1" r="0.8"/><circle cx="328.6" cy="607.5" r="0.8"/><circle cx="328.5" cy="606.2" r="0.8"/><circle cx="344.6" cy="615.8" r="0.8"/><circle cx="347.3" cy="602.0" r="0.8"/><circle cx="353.3" cy="623.5" r="0.8"/><circle cx="369.3" cy="610.5" r="0.8"/><circle cx="346.6" cy="621.6" r="0.8"/><circle cx="344.5" cy="617.7" r="0.8"/><circle cx="355.6" cy="619.1" r="0.8"/><circle cx="360.8" cy="613.9" r="0.8"/><circle cx="322.3" cy="619.4" r="0.8"/><circle cx="334.8" cy="616.3" r="0.8"/><circle cx="344.9" cy="608.9" r="0.8"/><circle cx="290.0" cy="639.0" r="0.8"/><circle cx="310.7" cy="618.6" r="0.8"/><circle cx="370.4" cy="608.9" r="0.8"/><circle cx="304.1" cy="630.8" r="0.8"/><circle cx="308.9" cy="651.8" r="0.8"/><circle cx="330.4" cy="606.1" r="0.8"/><circle cx="315.7" cy="632.7" r="0.8"/><circle cx="308.5" cy="626.8" r="0.8"/><circle cx="335.3" cy="638.9" r="0.8"/><circle cx="344.5" cy="613.6" r="0.8"/><circle cx="328.5" cy="624.5" r="0.8"/><circle cx="339.1" cy="616.3" r="0.8"/><circle cx="279.4" cy="650.5" r="0.8"/><circle cx="323.2" cy="622.0" r="0.8"/><circle cx="332.5" cy="638.6" r="0.8"/><circle cx="353.3" cy="601.7" r="0.8"/><circle cx="305.0" cy="644.9" r="0.8"/><circle cx="332.0" cy="602.5" r="0.8"/><circle cx="307.8" cy="651.7" r="0.8"/><circle cx="309.8" cy="631.8" r="0.8"/><circle cx="288.0" cy="637.1" r="0.8"/><circle cx="337.7" cy="621.3" r="0.8"/><circle cx="317.6" cy="629.0" r="0.8"/><circle cx="294.1" cy="620.2" r="0.8"/><circle cx="338.5" cy="604.3" r="0.8"/><circle cx="325.5" cy="607.5" r="0.8"/><circle cx="301.5" cy="631.1" r="0.8"/><circle cx="331.3" cy="629.6" r="0.8"/><circle cx="328.5" cy="633.5" r="0.8"/><circle cx="340.4" cy="634.4" r="0.8"/><circle cx="337.6" cy="626.4" r="0.8"/><circle cx="305.2" cy="615.0" r="0.8"/><circle cx="303.7" cy="625.5" r="0.8"/><circle cx="323.6" cy="615.4" r="0.8"/><circle cx="340.0" cy="606.0" r="0.8"/><circle cx="270.4" cy="654.0" r="0.8"/><circle cx="344.7" cy="601.7" r="0.8"/><circle cx="302.8" cy="634.8" r="0.8"/><circle cx="314.8" cy="628.9" r="0.8"/><circle cx="284.6" cy="661.3" r="0.8"/><circle cx="308.2" cy="632.5" r="0.8"/><circle cx="354.7" cy="605.5" r="0.8"/><circle cx="325.4" cy="620.9" r="0.8"/><circle cx="332.9" cy="634.0" r="0.8"/><circle cx="338.1" cy="602.1" r="0.8"/><circle cx="334.8" cy="629.1" r="0.8"/><circle cx="355.3" cy="616.0" r="0.8"/><circle cx="310.2" cy="630.5" r="0.8"/><circle cx="319.4" cy="638.0" r="0.8"/><circle cx="285.9" cy="663.6" r="0.8"/><circle cx="322.4" cy="652.6" r="0.8"/><circle cx="289.6" cy="653.2" r="0.8"/><circle cx="309.6" cy="647.0" r="0.8"/><circle cx="348.4" cy="602.6" r="0.8"/><circle cx="295.8" cy="634.4" r="0.8"/><circle cx="322.4" cy="619.5" r="0.8"/><circle cx="317.9" cy="628.4" r="0.8"/><circle cx="318.0" cy="638.0" r="0.8"/><circle cx="348.8" cy="611.0" r="0.8"/><circle cx="336.9" cy="620.2" r="0.8"/><circle cx="337.6" cy="612.3" r="0.8"/><circle cx="329.3" cy="633.9" r="0.8"/><circle cx="338.3" cy="611.1" r="0.8"/><circle cx="334.0" cy="628.0" r="0.8"/><circle cx="340.4" cy="627.8" r="0.8"/><circle cx="358.6" cy="626.1" r="0.8"/><circle cx="297.5" cy="637.9" r="0.8"/><circle cx="334.3" cy="616.5" r="0.8"/><circle cx="309.1" cy="646.5" r="0.8"/><circle cx="321.5" cy="624.2" r="0.8"/><circle cx="296.2" cy="647.0" r="0.8"/><circle cx="319.2" cy="622.5" r="0.8"/><circle cx="297.9" cy="655.1" r="0.8"/><circle cx="340.7" cy="610.5" r="0.8"/><circle cx="345.7" cy="624.6" r="0.8"/><circle cx="317.6" cy="632.7" r="0.8"/><circle cx="348.4" cy="601.7" r="0.8"/><circle cx="346.0" cy="632.9" r="0.8"/><circle cx="315.9" cy="628.1" r="0.8"/><circle cx="320.3" cy="623.4" r="0.8"/><circle cx="352.6" cy="617.6" r="0.8"/><circle cx="293.0" cy="620.3" r="0.8"/><circle cx="339.1" cy="620.2" r="0.8"/><circle cx="309.3" cy="620.4" r="0.8"/><circle cx="348.9" cy="599.7" r="0.8"/><circle cx="331.2" cy="616.9" r="0.8"/><circle cx="310.2" cy="623.7" r="0.8"/><circle cx="330.7" cy="624.9" r="0.8"/><circle cx="295.5" cy="625.3" r="0.8"/><circle cx="301.9" cy="639.1" r="0.8"/><circle cx="330.7" cy="627.6" r="0.8"/><circle cx="331.3" cy="620.1" r="0.8"/><circle cx="307.2" cy="643.6" r="0.8"/><circle cx="299.1" cy="627.1" r="0.8"/><circle cx="329.4" cy="612.6" r="0.8"/><circle cx="327.7" cy="628.0" r="0.8"/><circle cx="331.9" cy="628.9" r="0.8"/><circle cx="276.9" cy="653.5" r="0.8"/><circle cx="336.5" cy="622.7" r="0.8"/><circle cx="352.1" cy="606.0" r="0.8"/><circle cx="311.3" cy="623.2" r="0.8"/><circle cx="297.0" cy="642.1" r="0.8"/><circle cx="337.7" cy="614.3" r="0.8"/><circle cx="363.7" cy="601.0" r="0.8"/><circle cx="311.9" cy="627.4" r="0.8"/><circle cx="311.2" cy="645.3" r="0.8"/><circle cx="331.2" cy="619.6" r="0.8"/><circle cx="320.3" cy="650.0" r="0.8"/><circle cx="290.4" cy="655.5" r="0.8"/><circle cx="326.8" cy="614.1" r="0.8"/><circle cx="317.2" cy="625.1" r="0.8"/><circle cx="340.1" cy="635.4" r="0.8"/><circle cx="320.2" cy="614.0" r="0.8"/><circle cx="287.5" cy="645.8" r="0.8"/><circle cx="348.3" cy="603.3" r="0.8"/><circle cx="275.2" cy="648.5" r="0.8"/><circle cx="317.6" cy="604.6" r="0.8"/><circle cx="305.9" cy="631.4" r="0.8"/><circle cx="312.9" cy="633.0" r="0.8"/><circle cx="346.2" cy="619.9" r="0.8"/><circle cx="362.1" cy="592.7" r="0.8"/><circle cx="348.9" cy="622.0" r="0.8"/><circle cx="322.5" cy="625.9" r="0.8"/><circle cx="336.6" cy="626.9" r="0.8"/><circle cx="327.5" cy="613.1" r="0.8"/><circle cx="342.3" cy="621.5" r="0.8"/><circle cx="338.1" cy="623.8" r="0.8"/><circle cx="336.8" cy="617.6" r="0.8"/><circle cx="368.8" cy="610.9" r="0.8"/><circle cx="294.0" cy="623.3" r="0.8"/><circle cx="285.8" cy="632.0" r="0.8"/><circle cx="315.4" cy="632.2" r="0.8"/><circle cx="342.6" cy="609.5" r="0.8"/><circle cx="341.8" cy="606.8" r="0.8"/><circle cx="321.2" cy="627.2" r="0.8"/><circle cx="329.5" cy="624.0" r="0.8"/><circle cx="353.0" cy="617.2" r="0.8"/><circle cx="315.7" cy="618.0" r="0.8"/><circle cx="305.0" cy="656.8" r="0.8"/><circle cx="362.0" cy="611.7" r="0.8"/><circle cx="287.4" cy="635.5" r="0.8"/><circle cx="348.6" cy="621.9" r="0.8"/><circle cx="303.9" cy="620.1" r="0.8"/><circle cx="356.1" cy="607.6" r="0.8"/><circle cx="300.8" cy="654.2" r="0.8"/><circle cx="295.4" cy="624.4" r="0.8"/><circle cx="345.0" cy="608.8" r="0.8"/><circle cx="329.5" cy="619.1" r="0.8"/><circle cx="290.4" cy="642.9" r="0.8"/><circle cx="324.7" cy="618.1" r="0.8"/><circle cx="366.5" cy="623.1" r="0.8"/><circle cx="316.1" cy="642.2" r="0.8"/><circle cx="308.8" cy="615.4" r="0.8"/><circle cx="339.0" cy="620.6" r="0.8"/><circle cx="319.4" cy="621.1" r="0.8"/><circle cx="316.9" cy="632.4" r="0.8"/><circle cx="331.0" cy="617.4" r="0.8"/><circle cx="310.7" cy="645.8" r="0.8"/><circle cx="329.5" cy="622.5" r="0.8"/><circle cx="343.7" cy="621.6" r="0.8"/><circle cx="336.8" cy="611.0" r="0.8"/><circle cx="312.9" cy="638.7" r="0.8"/><circle cx="291.1" cy="630.3" r="0.8"/><circle cx="369.2" cy="630.8" r="0.8"/><circle cx="326.9" cy="626.5" r="0.8"/><circle cx="311.6" cy="632.5" r="0.8"/><circle cx="288.6" cy="618.0" r="0.8"/><circle cx="301.3" cy="644.1" r="0.8"/><circle cx="321.5" cy="636.0" r="0.8"/><circle cx="335.6" cy="610.9" r="0.8"/><circle cx="307.2" cy="628.5" r="0.8"/><circle cx="319.9" cy="638.7" r="0.8"/><circle cx="317.1" cy="642.0" r="0.8"/><circle cx="335.1" cy="611.2" r="0.8"/><circle cx="296.3" cy="647.9" r="0.8"/><circle cx="346.8" cy="603.8" r="0.8"/><circle cx="315.3" cy="627.4" r="0.8"/><circle cx="323.5" cy="627.5" r="0.8"/><circle cx="335.5" cy="623.1" r="0.8"/><circle cx="333.8" cy="627.0" r="0.8"/><circle cx="324.3" cy="624.5" r="0.8"/><circle cx="308.2" cy="635.7" r="0.8"/><circle cx="333.5" cy="629.4" r="0.8"/><circle cx="292.2" cy="640.8" r="0.8"/><circle cx="324.8" cy="629.7" r="0.8"/><circle cx="308.0" cy="649.9" r="0.8"/><circle cx="346.3" cy="628.1" r="0.8"/><circle cx="342.3" cy="618.9" r="0.8"/><circle cx="316.0" cy="618.5" r="0.8"/><circle cx="309.4" cy="621.0" r="0.8"/><circle cx="306.9" cy="644.5" r="0.8"/><circle cx="337.0" cy="606.1" r="0.8"/><circle cx="353.1" cy="610.9" r="0.8"/><circle cx="270.8" cy="659.0" r="0.8"/><circle cx="335.1" cy="617.8" r="0.8"/><circle cx="318.6" cy="620.1" r="0.8"/><circle cx="335.2" cy="622.9" r="0.8"/><circle cx="283.1" cy="650.3" r="0.8"/><circle cx="304.3" cy="630.0" r="0.8"/><circle cx="346.0" cy="613.8" r="0.8"/><circle cx="289.6" cy="643.2" r="0.8"/><circle cx="357.0" cy="603.1" r="0.8"/><circle cx="333.2" cy="614.2" r="0.8"/><circle cx="318.9" cy="650.5" r="0.8"/><circle cx="321.4" cy="618.6" r="0.8"/><circle cx="337.7" cy="619.0" r="0.8"/><circle cx="336.5" cy="647.2" r="0.8"/><circle cx="309.7" cy="622.6" r="0.8"/><circle cx="335.3" cy="598.9" r="0.8"/><circle cx="323.6" cy="617.7" r="0.8"/><circle cx="336.9" cy="617.6" r="0.8"/><circle cx="305.9" cy="655.9" r="0.8"/><circle cx="333.0" cy="607.6" r="0.8"/><circle cx="299.7" cy="624.7" r="0.8"/><circle cx="311.5" cy="603.1" r="0.8"/><circle cx="321.2" cy="628.0" r="0.8"/><circle cx="318.9" cy="627.8" r="0.8"/><circle cx="319.3" cy="643.9" r="0.8"/><circle cx="286.1" cy="640.1" r="0.8"/><circle cx="280.5" cy="630.4" r="0.8"/><circle cx="328.0" cy="616.4" r="0.8"/><circle cx="338.6" cy="612.6" r="0.8"/><circle cx="320.8" cy="622.0" r="0.8"/><circle cx="356.0" cy="613.6" r="0.8"/><circle cx="308.5" cy="623.9" r="0.8"/><circle cx="328.3" cy="630.0" r="0.8"/><circle cx="342.9" cy="616.2" r="0.8"/><circle cx="306.9" cy="614.2" r="0.8"/><circle cx="301.5" cy="626.3" r="0.8"/><circle cx="346.5" cy="619.4" r="0.8"/><circle cx="297.0" cy="665.3" r="0.8"/><circle cx="327.0" cy="613.2" r="0.8"/><circle cx="343.2" cy="622.6" r="0.8"/><circle cx="297.5" cy="639.5" r="0.8"/><circle cx="333.7" cy="616.9" r="0.8"/><circle cx="330.3" cy="622.2" r="0.8"/><circle cx="316.8" cy="619.3" r="0.8"/><circle cx="330.3" cy="628.0" r="0.8"/><circle cx="298.4" cy="644.7" r="0.8"/><circle cx="329.0" cy="606.1" r="0.8"/><circle cx="310.7" cy="614.0" r="0.8"/><circle cx="329.8" cy="612.3" r="0.8"/><circle cx="336.7" cy="618.3" r="0.8"/><circle cx="273.6" cy="656.0" r="0.8"/><circle cx="295.5" cy="622.4" r="0.8"/><circle cx="309.3" cy="616.9" r="0.8"/><circle cx="338.2" cy="632.1" r="0.8"/><circle cx="329.1" cy="624.3" r="0.8"/><circle cx="329.3" cy="618.9" r="0.8"/><circle cx="325.2" cy="612.3" r="0.8"/><circle cx="341.7" cy="609.0" r="0.8"/><circle cx="344.5" cy="604.0" r="0.8"/><circle cx="344.8" cy="611.4" r="0.8"/><circle cx="345.0" cy="605.9" r="0.8"/><circle cx="277.2" cy="652.1" r="0.8"/><circle cx="322.4" cy="617.3" r="0.8"/><circle cx="329.3" cy="619.2" r="0.8"/><circle cx="319.0" cy="629.8" r="0.8"/><circle cx="333.4" cy="617.7" r="0.8"/><circle cx="348.5" cy="623.1" r="0.8"/><circle cx="328.7" cy="626.7" r="0.8"/><circle cx="305.6" cy="644.3" r="0.8"/><circle cx="301.7" cy="640.2" r="0.8"/><circle cx="286.1" cy="655.1" r="0.8"/><circle cx="323.1" cy="619.0" r="0.8"/><circle cx="316.3" cy="640.9" r="0.8"/><circle cx="312.9" cy="632.3" r="0.8"/><circle cx="328.3" cy="612.8" r="0.8"/><circle cx="310.4" cy="628.3" r="0.8"/><circle cx="328.8" cy="627.7" r="0.8"/><circle cx="319.0" cy="626.8" r="0.8"/><circle cx="311.8" cy="625.8" r="0.8"/><circle cx="319.8" cy="632.7" r="0.8"/><circle cx="319.4" cy="633.8" r="0.8"/><circle cx="343.2" cy="622.3" r="0.8"/><circle cx="294.3" cy="657.6" r="0.8"/><circle cx="308.3" cy="641.8" r="0.8"/><circle cx="280.4" cy="643.9" r="0.8"/><circle cx="327.9" cy="605.7" r="0.8"/><circle cx="334.4" cy="612.2" r="0.8"/><circle cx="341.3" cy="606.9" r="0.8"/><circle cx="338.6" cy="616.8" r="0.8"/><circle cx="331.4" cy="625.0" r="0.8"/><circle cx="335.8" cy="630.1" r="0.8"/><circle cx="353.6" cy="628.3" r="0.8"/><circle cx="333.0" cy="608.4" r="0.8"/><circle cx="281.3" cy="632.5" r="0.8"/><circle cx="330.6" cy="629.1" r="0.8"/><circle cx="335.1" cy="638.0" r="0.8"/><circle cx="286.4" cy="648.0" r="0.8"/><circle cx="279.3" cy="661.2" r="0.8"/><circle cx="315.8" cy="624.5" r="0.8"/><circle cx="304.9" cy="628.9" r="0.8"/><circle cx="302.8" cy="641.0" r="0.8"/><circle cx="321.8" cy="617.0" r="0.8"/><circle cx="323.2" cy="630.1" r="0.8"/><circle cx="309.2" cy="635.4" r="0.8"/><circle cx="307.4" cy="633.3" r="0.8"/><circle cx="327.8" cy="652.2" r="0.8"/><circle cx="331.8" cy="618.3" r="0.8"/><circle cx="319.0" cy="623.2" r="0.8"/><circle cx="342.3" cy="634.7" r="0.8"/><circle cx="317.3" cy="616.2" r="0.8"/><circle cx="321.2" cy="632.5" r="0.8"/><circle cx="272.6" cy="653.7" r="0.8"/><circle cx="336.7" cy="614.7" r="0.8"/><circle cx="303.3" cy="623.0" r="0.8"/><circle cx="332.1" cy="618.5" r="0.8"/><circle cx="346.4" cy="605.2" r="0.8"/><circle cx="335.8" cy="608.0" r="0.8"/><circle cx="333.1" cy="616.8" r="0.8"/><circle cx="343.5" cy="622.0" r="0.8"/><circle cx="340.5" cy="607.5" r="0.8"/><circle cx="314.2" cy="610.1" r="0.8"/><circle cx="310.1" cy="617.9" r="0.8"/><circle cx="351.1" cy="610.1" r="0.8"/><circle cx="293.1" cy="647.4" r="0.8"/><circle cx="341.6" cy="653.5" r="0.8"/><circle cx="345.5" cy="629.6" r="0.8"/><circle cx="342.4" cy="616.1" r="0.8"/><circle cx="346.0" cy="611.8" r="0.8"/></g>
</svg></body></html>
